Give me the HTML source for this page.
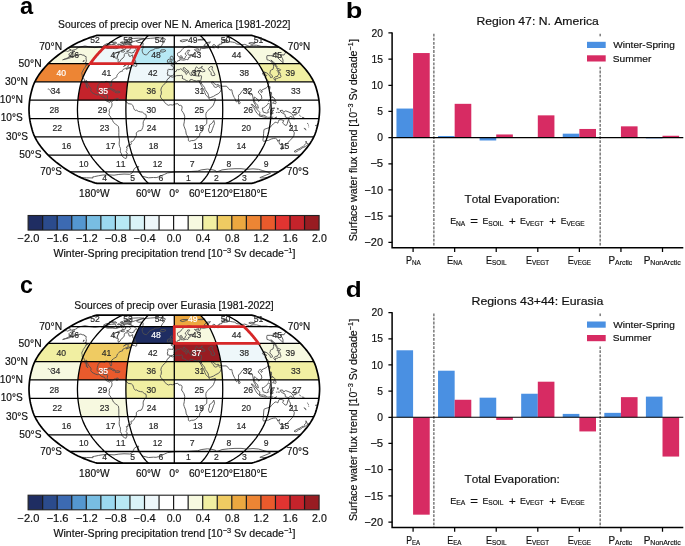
<!DOCTYPE html>
<html><head><meta charset="utf-8"><style>
html,body{margin:0;padding:0;background:#fff;}
body{width:685px;height:546px;overflow:hidden;font-family:"Liberation Sans",sans-serif;}
svg{display:block;font-kerning:none;will-change:transform;}
</style></head><body>
<svg width="685" height="546" viewBox="0 0 685 546" font-family="Liberation Sans, sans-serif">
<rect width="685" height="546" fill="#fff"/>
<text transform="translate(20.09,13.5) scale(1.0080,1)" font-size="23.5" font-weight="bold" fill="#000">a</text>
<g>
<path d="M48.19 63.7 L90.23 63.7 L90.23 63.7 L90.83 62.81 L91.45 61.93 L92.09 61.05 L92.75 60.18 L93.42 59.31 L94.1 58.45 L94.79 57.59 L95.5 56.73 L96.22 55.88 L96.94 55.04 L97.68 54.2 L98.42 53.37 L99.18 52.55 L99.94 51.73 L100.71 50.92 L101.49 50.11 L102.27 49.32 L103.07 48.53 L103.87 47.75 L104.69 46.98 L104.69 46.98 L69.89 46.98 L69.89 46.98 L68.66 47.75 L67.45 48.53 L66.26 49.32 L65.08 50.11 L63.92 50.92 L62.76 51.73 L61.62 52.55 L60.49 53.37 L59.37 54.2 L58.26 55.04 L57.17 55.88 L56.1 56.73 L55.04 57.59 L54 58.45 L52.97 59.31 L51.97 60.18 L50.99 61.05 L50.03 61.93 L49.1 62.81 L48.19 63.7Z" fill="#f7f9e0"/>
<path d="M90.23 63.7 L132.26 63.7 L132.26 63.7 L132.57 62.81 L132.88 61.93 L133.2 61.05 L133.52 60.18 L133.86 59.31 L134.2 58.45 L134.55 57.59 L134.9 56.73 L135.26 55.88 L135.62 55.04 L135.99 54.2 L136.36 53.37 L136.74 52.55 L137.12 51.73 L137.51 50.92 L137.89 50.11 L138.29 49.32 L138.68 48.53 L139.09 47.75 L139.5 46.98 L139.5 46.98 L104.69 46.98 L104.69 46.98 L103.87 47.75 L103.07 48.53 L102.27 49.32 L101.49 50.11 L100.71 50.92 L99.94 51.73 L99.18 52.55 L98.42 53.37 L97.68 54.2 L96.94 55.04 L96.22 55.88 L95.5 56.73 L94.79 57.59 L94.1 58.45 L93.42 59.31 L92.75 60.18 L92.09 61.05 L91.45 61.93 L90.83 62.81 L90.23 63.7Z" fill="#eef7fa"/>
<path d="M132.26 63.7 L174.3 63.7 L174.3 63.7 L174.3 62.81 L174.3 61.93 L174.3 61.05 L174.3 60.18 L174.3 59.31 L174.3 58.45 L174.3 57.59 L174.3 56.73 L174.3 55.88 L174.3 55.04 L174.3 54.2 L174.3 53.37 L174.3 52.55 L174.3 51.73 L174.3 50.92 L174.3 50.11 L174.3 49.32 L174.3 48.53 L174.3 47.75 L174.3 46.98 L174.3 46.98 L139.5 46.98 L139.5 46.98 L139.09 47.75 L138.68 48.53 L138.29 49.32 L137.89 50.11 L137.51 50.92 L137.12 51.73 L136.74 52.55 L136.36 53.37 L135.99 54.2 L135.62 55.04 L135.26 55.88 L134.9 56.73 L134.55 57.59 L134.2 58.45 L133.86 59.31 L133.52 60.18 L133.2 61.05 L132.88 61.93 L132.57 62.81 L132.26 63.7Z" fill="#b7e8f4"/>
<path d="M258.37 63.7 L300.41 63.7 L300.41 63.7 L299.5 62.81 L298.57 61.93 L297.61 61.05 L296.63 60.18 L295.63 59.31 L294.6 58.45 L293.56 57.59 L292.5 56.73 L291.43 55.88 L290.34 55.04 L289.23 54.2 L288.11 53.37 L286.98 52.55 L285.84 51.73 L284.68 50.92 L283.52 50.11 L282.34 49.32 L281.15 48.53 L279.94 47.75 L278.71 46.98 L278.71 46.98 L243.91 46.98 L243.91 46.98 L244.73 47.75 L245.53 48.53 L246.33 49.32 L247.11 50.11 L247.89 50.92 L248.66 51.73 L249.42 52.55 L250.18 53.37 L250.92 54.2 L251.66 55.04 L252.38 55.88 L253.1 56.73 L253.81 57.59 L254.5 58.45 L255.18 59.31 L255.85 60.18 L256.51 61.05 L257.15 61.93 L257.77 62.81 L258.37 63.7Z" fill="#f7f9e0"/>
<path d="M34.81 81.87 L81.31 81.87 L81.31 81.87 L81.61 80.95 L81.93 80.04 L82.27 79.12 L82.62 78.2 L82.98 77.28 L83.36 76.37 L83.75 75.45 L84.16 74.54 L84.58 73.62 L85.03 72.71 L85.49 71.8 L85.97 70.89 L86.47 69.98 L86.97 69.08 L87.49 68.17 L88.01 67.27 L88.54 66.38 L89.09 65.48 L89.65 64.59 L90.23 63.7 L90.23 63.7 L48.19 63.7 L48.19 63.7 L47.32 64.59 L46.48 65.48 L45.67 66.38 L44.87 67.27 L44.08 68.17 L43.31 69.08 L42.55 69.98 L41.81 70.89 L41.09 71.8 L40.39 72.71 L39.73 73.62 L39.09 74.54 L38.48 75.45 L37.89 76.37 L37.33 77.28 L36.78 78.2 L36.25 79.12 L35.75 80.04 L35.27 80.95 L34.81 81.87Z" fill="#ed8534"/>
<path d="M127.8 81.87 L174.3 81.87 L174.3 81.87 L174.3 80.95 L174.3 80.04 L174.3 79.12 L174.3 78.2 L174.3 77.28 L174.3 76.37 L174.3 75.45 L174.3 74.54 L174.3 73.62 L174.3 72.71 L174.3 71.8 L174.3 70.89 L174.3 69.98 L174.3 69.08 L174.3 68.17 L174.3 67.27 L174.3 66.38 L174.3 65.48 L174.3 64.59 L174.3 63.7 L174.3 63.7 L132.26 63.7 L132.26 63.7 L131.97 64.59 L131.69 65.48 L131.42 66.38 L131.16 67.27 L130.89 68.17 L130.64 69.08 L130.38 69.98 L130.14 70.89 L129.9 71.8 L129.66 72.71 L129.44 73.62 L129.23 74.54 L129.03 75.45 L128.83 76.37 L128.64 77.28 L128.46 78.2 L128.28 79.12 L128.12 80.04 L127.96 80.95 L127.8 81.87Z" fill="#eef7fa"/>
<path d="M174.3 81.87 L220.8 81.87 L220.8 81.87 L220.64 80.95 L220.48 80.04 L220.32 79.12 L220.14 78.2 L219.96 77.28 L219.77 76.37 L219.57 75.45 L219.37 74.54 L219.16 73.62 L218.94 72.71 L218.7 71.8 L218.46 70.89 L218.22 69.98 L217.96 69.08 L217.71 68.17 L217.44 67.27 L217.18 66.38 L216.91 65.48 L216.63 64.59 L216.34 63.7 L216.34 63.7 L174.3 63.7 L174.3 63.7 L174.3 64.59 L174.3 65.48 L174.3 66.38 L174.3 67.27 L174.3 68.17 L174.3 69.08 L174.3 69.98 L174.3 70.89 L174.3 71.8 L174.3 72.71 L174.3 73.62 L174.3 74.54 L174.3 75.45 L174.3 76.37 L174.3 77.28 L174.3 78.2 L174.3 79.12 L174.3 80.04 L174.3 80.95 L174.3 81.87Z" fill="#f7f9e0"/>
<path d="M267.29 81.87 L313.79 81.87 L313.79 81.87 L313.33 80.95 L312.85 80.04 L312.35 79.12 L311.82 78.2 L311.27 77.28 L310.71 76.37 L310.12 75.45 L309.51 74.54 L308.87 73.62 L308.21 72.71 L307.51 71.8 L306.79 70.89 L306.05 69.98 L305.29 69.08 L304.52 68.17 L303.73 67.27 L302.93 66.38 L302.12 65.48 L301.28 64.59 L300.41 63.7 L300.41 63.7 L258.37 63.7 L258.37 63.7 L258.95 64.59 L259.51 65.48 L260.06 66.38 L260.59 67.27 L261.11 68.17 L261.63 69.08 L262.13 69.98 L262.63 70.89 L263.11 71.8 L263.57 72.71 L264.02 73.62 L264.44 74.54 L264.85 75.45 L265.24 76.37 L265.62 77.28 L265.98 78.2 L266.33 79.12 L266.67 80.04 L266.99 80.95 L267.29 81.87Z" fill="#f1efa2"/>
<path d="M77.88 100.22 L126.09 100.22 L126.09 100.22 L126.13 99.31 L126.18 98.39 L126.23 97.47 L126.29 96.55 L126.35 95.64 L126.42 94.72 L126.49 93.8 L126.57 92.88 L126.65 91.97 L126.73 91.05 L126.81 90.13 L126.89 89.21 L126.98 88.3 L127.07 87.38 L127.17 86.46 L127.28 85.54 L127.4 84.62 L127.53 83.71 L127.66 82.79 L127.8 81.87 L127.8 81.87 L81.31 81.87 L81.31 81.87 L81.02 82.79 L80.75 83.71 L80.5 84.62 L80.27 85.54 L80.05 86.46 L79.85 87.38 L79.66 88.3 L79.49 89.21 L79.32 90.13 L79.16 91.05 L79 91.97 L78.84 92.88 L78.68 93.8 L78.54 94.72 L78.4 95.64 L78.28 96.55 L78.16 97.47 L78.06 98.39 L77.96 99.31 L77.88 100.22Z" fill="#c4232b"/>
<path d="M126.09 100.22 L174.3 100.22 L174.3 100.22 L174.3 99.31 L174.3 98.39 L174.3 97.47 L174.3 96.55 L174.3 95.64 L174.3 94.72 L174.3 93.8 L174.3 92.88 L174.3 91.97 L174.3 91.05 L174.3 90.13 L174.3 89.21 L174.3 88.3 L174.3 87.38 L174.3 86.46 L174.3 85.54 L174.3 84.62 L174.3 83.71 L174.3 82.79 L174.3 81.87 L174.3 81.87 L127.8 81.87 L127.8 81.87 L127.66 82.79 L127.53 83.71 L127.4 84.62 L127.28 85.54 L127.17 86.46 L127.07 87.38 L126.98 88.3 L126.89 89.21 L126.81 90.13 L126.73 91.05 L126.65 91.97 L126.57 92.88 L126.49 93.8 L126.42 94.72 L126.35 95.64 L126.29 96.55 L126.23 97.47 L126.18 98.39 L126.13 99.31 L126.09 100.22Z" fill="#f1efa2"/>
<path d="M47.75 89.12 L48.48 89.03 L49.3 89.58 L49.63 89.86 L50.41 90.22 L50.74 90.86 L51.34 91.32 L50.7 92.06 L50.53 91.42 M293.81 114.54 L295.2 114.26 L296.46 113.25 L297.1 113.35 L295.97 114.81 L294.74 115.09 L293.81 114.54 M295.97 111.79 L297.14 112.7 L297.73 113.71 M299.41 115.09 L299.95 115.46 L301.05 116.74 M302.06 117.02 L303.53 118.39 M303.35 117.02 L304.11 118.21 M304.28 127.94 L305.22 128.94 L306.17 129.86 L305.76 129.95 L304.5 128.67 L304.28 127.94 M307.47 122.98 L307.75 123.99 M308.43 124.54 L308.51 125.55 M308.72 126.65 L308.64 127.29 M315.46 125.46 L316.46 125.27 L316.09 126.1 L315.46 125.46 M316.88 124.54 L317.88 124.36 M277.19 107.75 L277.62 108.94 L278.25 108.21 L277.77 110.13 M277.55 112.34 L279.8 112.52 M275.94 112.34 L276.9 112.61 M267.21 117.2 L268.41 117.38 L270.03 117.2 L271.62 117.38 L273.26 117.02 M271.03 97.1 L271.71 98.11 M268.6 101.78 L270.21 99.03 M273.94 97.93 L275.04 99.21 L274.74 100.22 M272.67 99.58 L273.36 100.96 M108.99 42.56 L112.61 41.52 L113.22 42.21 L110.4 42.7 L108.99 42.56 M120.36 42.92 L122.78 42.21 L122.66 41.86 L120.48 42.35 L120.36 42.92 M121.98 43.42 L123.91 43.13 L123.13 42.84 L121.98 43.42 M124.52 41.18 L128.67 41.18 L131.03 39.58 L128.93 39.28 L125.75 40.2 L124.52 41.18 M116 47.98 L117.96 47.75 L118.42 47.21 L117.32 47.13 L116 47.98 M121.01 51.73 L123.85 52.14 L124.67 51.32 L123.22 50.27 L121.12 50.68 L121.01 51.73 M129.6 44.73 L131.56 44.36 L131.24 44.07 L129.4 44.29 L129.6 44.73 M197.87 39.88 L201.43 39.28 L205.14 39.58 L201.98 40.01 L197.87 39.88 M117.64 48.14 L118.87 47.36 L120.67 45.62 L121.94 45.47 L121.25 46.6 L121.6 47.6 L122.3 48.22 M86.92 65.21 L86.06 64.68 L85.04 63.61 L84.93 62.99 L86.91 63.43 L86.92 65.21 M83.51 61.93 L84.23 60.61 L83.91 60.18 L83.17 61.49 L83.51 61.93 M76.91 48.14 L80.44 46.9 L84.93 45.99 L86.97 46.37 L88.76 46.75 L92.22 47.21 L94.67 47.6 L98.13 47.13 L100.23 46.83 L101.86 47.44 L105.13 47.67 L106.86 48.3 L109.82 48.3 L112.63 48.45 L116 48.69 L118.29 48.06 L120.56 47.44 L122.3 48.22 L124.53 47.21 L125.95 48.06 L125.27 49.48 L123 49.72 L120.84 51.08 L118.11 51.89 L115.06 53.54 L112.97 55.54 L113.12 56.9 L114.78 57.41 L116.39 58.62 L118.45 59.14 L117.99 61.05 L118.43 62.55 L120.1 61.49 L120.87 59.66 L123.06 58.01 L124.23 56.31 L124.35 54.45 L125.25 53.12 L127.65 53.12 L128.73 54.04 L128.99 56.05 L130.09 56.48 L132.61 54.87 L132.74 57.16 L133.2 58.45 L134.53 59.31 L135.41 60.61 L135.78 61.93 L134.05 62.55 L132.32 63.52 L129.18 63.52 L127.65 63.88 L125.46 65.03 L123.53 66.46 L126.27 64.77 L128.51 64.41 L128.79 65.03 L127.76 66.2 L127.98 67.09 L129.97 67.63 L130.85 67.09 L131.02 67.72 L128.25 68.54 L126.33 69.35 L126.29 68.54 L127.72 67.9 L125.83 68.17 L124.54 68.81 L123.09 69.44 L122.33 70.44 L122.72 71.07 L121.5 71.44 L119.62 71.98 L119.3 72.53 L118.28 73.71 L117.67 74.26 L116.95 75.45 L116.91 76.73 L116.02 77.56 L114.68 78.29 L113.6 78.94 L111.89 80.31 L111.3 81.87 L111.58 83.52 L111.69 85.08 L111.18 86.28 L110.57 86.18 L110.28 85.08 L109.79 83.89 L109.94 82.79 L109.23 81.78 L108.14 82.15 L107.35 81.5 L106.22 81.41 L104.99 81.69 L104.91 82.7 L104.02 82.51 L103.28 82.33 L101.78 82.15 L100.52 82.51 L98.88 83.52 L98.17 84.62 L97.89 86 L97.32 87.84 L97.12 89.67 L97.39 91.05 L98.06 91.97 L99.15 92.7 L100.79 92.33 L101.84 92.15 L102.58 90.77 L102.75 90.13 L104.31 89.67 L105.5 89.67 L105.08 91.05 L104.6 92.33 L104.08 93.34 L103.68 94.72 L105.66 94.81 L107.25 94.9 L107.71 95.82 L107.29 97.93 L107.11 99.31 L107.98 100.68 L108.92 101.23 L110.16 100.59 L111.19 100.77 L112.12 101.51 L113.04 100.87 L113.58 99.77 L114.26 99.21 L115.47 99.03 L116.39 98.39 L116.83 99.12 L116.54 100.04 L116.97 100.96 L117.28 99.77 L116.86 98.66 L118.01 98.21 L118.45 98.94 L119.53 99.67 L121.3 99.67 L122.74 99.67 L124.11 99.67 L125.29 100.13 L125.55 101.51 L126.82 102.06 L128.14 103.71 L129.99 103.89 L131.59 104.26 L132.78 105.36 L133.55 107.56 L133.94 108.85 L134.59 109.86 L135.24 110.5 L136.36 110.13 L138.39 111.42 L140.42 111.88 L142.44 112.15 L144.31 113.8 L145.85 114.36 L146.29 116.28 L146 118.03 L144.6 119.49 L143.46 121.33 L143.13 123.16 L143.25 125.46 L142.73 127.48 L141.97 129.31 L141.18 130.5 L139.23 130.78 L137.7 131.42 L136.28 133.07 L136.43 135.28 L135.55 136.93 L134.63 138.58 L133.62 140.42 L132.78 141.24 L131.27 141.33 L130.92 142.25 L131.44 143.35 L131.07 144.45 L129.77 144.99 L127.78 145.09 L128.1 146.64 L126.19 147 L127.18 148.36 L126.79 149.27 L126.84 150.63 L125.85 151.8 L127.37 153.14 L126.63 154.66 L126.23 155.81 L127.05 157.13 L126.27 157.57 L126.05 158.62 L124.37 157.92 L122.86 156.87 L121.48 155.1 L121.5 153.77 L120.32 151.98 L120.39 150.17 L120.5 148.36 L119.61 146.54 L119.16 144.26 L119.24 141.97 L119.49 140.14 L119.06 137.39 L118.79 135.09 L118.85 132.34 L118.79 129.13 L118.42 126.38 L117.46 125.55 L115.66 124.27 L113.5 122.43 L112.55 120.41 L111.2 118.12 L110.05 116.01 L108.88 114.91 L109.15 113.53 L109.53 112.43 L109.09 110.78 L109.72 109.12 L110.14 108.3 L110.87 107.75 L111.71 106.28 L111.98 105.09 L111.96 103.34 L111.51 102.61 L110.77 101.23 L109.93 101.78 L109.49 102.61 L108.56 101.97 L107.06 101.33 L105.51 100.32 L105.42 99.31 L104.43 97.56 L103.18 97.2 L101.16 96.55 L100.03 95.18 L98.75 94.53 L97.26 94.99 L95.49 94.44 L93.85 93.62 L92 92.61 L90.7 90.77 L91.15 89.4 L90.83 88.48 L89.78 86.92 L88.57 85.91 L87.96 84.17 L87.06 82.88 L86.89 80.86 L85.92 80.31 L85.73 81.87 L86.46 83.34 L86.64 85.08 L87.3 87.1 L87.98 88.11 L87.41 87.74 L86.22 86.64 L86.41 85.08 L85.28 83.98 L85.04 82.33 L84.47 80.95 L84.33 79.58 L83.77 78.38 L83.15 77.83 L82.38 77.65 L82.19 75.91 L82.16 74.81 L81.77 73.71 L82.02 72.35 L82.95 70.89 L83.17 69.98 L85.24 67.09 L85.98 65.12 L87.07 65.3 L87.45 64.5 L86.73 63.7 L85.61 62.81 L86.27 61.49 L86.31 59.74 L85.96 58.96 L86.18 57.59 L85.97 56.39 L84.91 56.48 L84.2 55.21 L82.12 55.04 L80.99 54.29 L78.75 54.87 L77.15 55.46 L75.71 55.71 L77.29 54.45 L74.69 55.63 L73.04 56.73 L70.52 57.67 L68.3 58.45 L65.72 59.05 L64 59.4 L62.67 59.83 L65.75 58.7 L69.61 56.99 L71.95 56.05 L70.74 55.97 L68.72 56.14 L69.77 55.12 L68.76 54.62 L69.14 53.79 L70.07 52.79 L71.53 52.38 L74.95 51.4 L73.92 51.24 L71.95 51.24 L71.93 50.43 L75.13 49.64 L76.92 48.77 L76.91 48.14 M136.45 41.18 L141.75 39.28 L146.17 38.7 L150.29 38.37 L155.34 37.95 L160.13 37.84 L163.73 38.37 L165.45 39.16 L164.61 40.52 L164.21 42.21 L162.81 43.63 L161.93 45.1 L160.99 46.83 L158.97 48.06 L155.33 48.45 L153.13 49.87 L150.81 50.52 L149.2 51.73 L147.61 53.79 L146.39 55.04 L145.08 54.7 L143.65 54.2 L142.84 52.96 L142.39 51.73 L142.14 50.11 L142.36 48.92 L143.96 47.36 L143.2 46.52 L142.88 45.47 L143.16 44 L142.84 42.77 L141.21 42.42 L138.97 42.56 L137.24 42.07 L136.45 41.18 M134 52.38 L134.34 50.52 L136.7 49.48 L135.07 47.6 L133.7 46.52 L132.15 45.84 L130.21 45.02 L127.19 44.29 L123.88 44.88 L124.53 46.83 L126.62 47.13 L129.11 46.9 L130.57 48.69 L129.25 50.35 L126.57 51.24 L129.32 52.38 L131.47 53.04 L134 52.38 M106.67 46.22 L108.93 44.73 L111.33 44.58 L114.91 44.36 L116 45.47 L115.56 46.83 L113.26 47.75 L107.68 48.06 L105.98 47.13 L106.67 46.22 M103.37 45.62 L106.51 43.78 L109.53 43.78 L109.48 44.73 L105.58 45.92 L103.37 45.62 M131.81 42.21 L127.56 42.21 L127.12 41.18 L128.43 39.28 L133.41 38.42 L138.52 38.15 L144 38.42 L139.98 39.58 L135.73 40.85 L131.81 42.21 M130.51 43.63 L126.68 43.63 L124.16 43.42 L125.2 42.42 L129.61 42.28 L131.28 42.77 L130.51 43.63 M123.36 45.47 L120.53 45.47 L120.83 44 L123.73 43.85 L123.36 45.47 M119.18 45.1 L117.57 45.02 L117.92 44.14 L119.98 44.29 L119.18 45.1 M116.7 43.27 L112.89 43.27 L112.66 42.42 L115.96 42.14 L116.7 43.27 M136.76 65.93 L136.69 64.14 L135.84 62.37 L134.16 63.25 L132.54 65.03 L132.08 65.84 L134.43 65.84 L136 66.64 L136.76 65.93 M107.13 89.3 L108.44 88.39 L110.04 88.2 L111.56 88.66 L113.05 89.4 L114.55 90.04 L115.49 90.86 L113 91.14 L112.52 90.5 L111.06 89.49 L109.52 89.12 L107.92 89.3 L107.13 89.3 M115.15 92.52 L116.41 91.14 L118 91.14 L119.56 91.42 L119.94 92.33 L117.82 92.88 L116.64 92.7 L115.15 92.52 M170.06 76.37 L169.54 75.63 L168.65 75.27 L167.58 75.45 L167.71 73.9 L167.19 73.81 L167.79 71.8 L167.77 70.44 L167.49 69.98 L168.47 69.35 L171.38 69.62 L172.99 69.62 L173.44 67.27 L172.73 66.2 L171.1 65.57 L171.05 64.94 L173.24 64.85 L173.39 63.96 L174.44 64.14 L175.41 62.9 L176.59 62.46 L177.39 61.49 L177.72 60.79 L179.08 60.61 L180.09 60.35 L180.01 58.88 L179.73 57.59 L181.21 56.99 L181.29 58.01 L180.97 59.31 L181.64 60.18 L182.44 60 L183.81 60.18 L185.13 59.74 L186.45 59.48 L187.84 59.74 L188.53 58.88 L188.24 57.76 L189.84 57.41 L190.33 57.16 L190 56.39 L189.56 55.71 L191.14 55.46 L192.44 55.46 L193.64 55.04 L192.26 54.62 L191 54.7 L189.01 55.12 L187.93 54.37 L187.83 52.96 L188.58 51.89 L189.63 50.92 L189.86 50.52 L189.2 50.27 L187.68 50.27 L187.25 51.32 L186.45 52.14 L185.33 53.12 L185.28 54.2 L186.42 55.04 L186.5 55.63 L185.43 56.48 L185.23 57.59 L184.92 58.36 L183.9 58.88 L182.89 58.88 L182.62 58.01 L182.05 56.73 L181.59 55.88 L181.11 55.54 L180.48 55.88 L179.55 56.65 L178.56 56.65 L177.95 56.05 L177.51 54.62 L177.46 53.37 L178.68 52.55 L179.9 52.06 L180.77 51.32 L181.58 50.11 L182.39 49.16 L183.18 48.37 L183.98 47.75 L185.35 47.13 L186.45 46.83 L187.51 46.37 L189.2 46.22 L190.98 46.45 L192.22 46.75 L193.56 47.36 L195.43 47.75 L197.4 48.37 L198.86 49.16 L198.8 49.87 L197.33 50.03 L195.47 49.87 L194.47 49.56 L195.64 50.92 L197.25 51.81 L198.32 51.24 L199.27 51.32 L200.34 49.95 L200.3 48.22 L201.54 48.37 L203.98 48.53 L206.17 48.14 L208.38 47.83 L209.48 47.13 L211.73 47.52 L214.25 47.83 L212.93 46.6 L212.83 45.1 L213.31 44.58 L214.92 44.88 L215.65 45.84 L217.68 48.14 L218.95 47.83 L217.77 45.32 L219.35 45.17 L219.2 44.29 L221.71 44 L221.51 43.2 L223.62 42.63 L225.61 42.49 L227.42 42.21 L228.49 41.38 L230.69 41.86 L232.64 42.14 L234.7 42.49 L236.86 44 L239.79 44.36 L243.03 44.73 L244.79 44.36 L247.32 45.47 L249.19 46.3 L251.1 45.77 L253.14 45.17 L256.63 45.25 L259.95 45.99 L261.63 46.37 L266.23 46.37 L271.05 47.29 L272.91 46.98 L276.63 47.13 L279.94 47.75 M68.54 47.83 L68.88 48.77 L69.86 49.32 L71.1 49.72 L71.15 50.11 L69.46 50.68 L67.43 51.48 L66.37 50.92 L64.61 51.08 L63.92 50.92 M284.68 50.92 L284.88 51.48 L285.66 52.96 L284.65 53.62 L284.08 55.04 L281.01 54.79 L280.22 55.21 L281.34 56.73 L282.39 58.27 L283.04 60.18 L282.97 61.49 L283.23 62.81 L281.17 61.05 L277.53 57.59 L277.58 56.9 L278.12 55.63 L277.87 53.79 L275.77 53.62 L273.33 53.7 L273.12 55.8 L270.34 55.63 L267.09 55.63 L266.73 56.9 L267.03 59.74 L268.77 60.18 L271.41 61.49 L272.03 62.81 L273.53 65.03 L273.59 66.82 L273.02 69.26 L271.28 69.98 L270.35 70.62 L270.29 71.8 L269.76 73.17 L271.94 75.45 L272.61 77.1 L271.33 77.65 L270.57 77.65 L269.83 75.45 L268.48 74.81 L267.26 73.08 L264.83 72.26 L264.76 73.62 L264.98 72.26 L263.9 71.89 L263.01 73.08 L262.35 73.9 L263.78 75.09 L265.12 74.72 L266.73 75.45 L265.43 76.83 L265.19 77.74 L266.89 79.58 L268.52 81.14 L268.88 83.25 L268.09 85.82 L266.48 87.84 L263.94 89.03 L261.76 90.13 L261.47 90.77 L260.67 89.76 L260.1 89.67 L258.87 90.86 L258.28 92.15 L259.09 93.34 L261.19 95.18 L261.96 98.39 L260.24 99.77 L258.6 101.51 L258.67 100.22 L258.23 99.77 L256.96 99.03 L255.64 97.75 L254.37 97.01 L253.97 99.77 L255.14 102.79 L256.31 103.62 L257.67 105.27 L258.39 108.12 L257.83 108.21 L256.02 106.83 L255.13 104.35 L253.56 101.88 L253.53 100.22 L252.29 94.26 L250.53 94.9 L249.46 94.63 L249.35 91.97 L247.39 90.41 L246.79 88.94 L245.8 89.21 L244.27 89.58 L243 90.13 L241.75 91.51 L239.93 94.26 L238.43 95.18 L238.55 97.47 L238.4 99.95 L237.06 101.88 L236.67 102.06 L235.82 101.14 L235.04 98.85 L234.23 97.47 L232.95 94.72 L232.12 91.97 L231.92 90.13 L231.63 89.67 L229.94 90.13 L228.77 88.75 L228.27 87.84 L227.43 87.38 L226.5 86.18 L222.97 86.28 L219.79 85.91 L219.21 85.63 L218.28 84.44 L216.54 84.9 L214.47 83.89 L213.23 82.06 L211.88 81.87 L211.56 82.33 L212.11 83.71 L212.99 84.62 L213.53 85.27 L214.23 86.74 L215.23 87.38 L216.79 87.19 L218.18 85.54 L218.61 86.55 L219.82 87.65 L221.5 88.75 L220.64 90.59 L220.2 91.97 L218.12 93.8 L215.81 94.9 L213.5 96.37 L210.75 97.47 L209.16 97.75 L208.51 95.82 L208.27 94.26 L206.86 91.97 L205.14 89.67 L204.52 87.38 L202.98 85.54 L201.58 83.71 L201.39 82.33 L200.98 83.89 L199.99 83.25 L199.57 81.96 L199.23 80.77 L200.77 80.68 L201.14 79.12 L201.56 76.83 L201.52 75.91 L200.36 75.63 L198.92 76.28 L197.36 75.91 L195.61 75.73 L194.85 74.99 L194.06 73.17 L193.76 72.44 L194.71 72.26 L195.74 71.62 L194.97 71.35 L194.91 70.89 L195.19 69.08 L195.75 67.9 L196.38 66.82 L197.76 67.81 L198.61 68.63 L199.95 67.99 L200.67 67.99 L201.51 66.64 L202.39 66.38 L201.77 67.27 L201.43 68.17 L203.05 69.08 L204.91 70.44 L204.93 71.35 L202.42 71.8 L200.06 70.89 L197.59 71.62 L195.89 71.62 L195.17 71.8 L193.71 71.98 L192.08 71.98 L191.1 72.53 L192.31 74.35 L191.59 74.72 L191.31 75.91 L190.24 74.72 L189.6 73.35 L188.62 72.26 L188.67 71.07 L186.74 69.98 L185.15 68.17 L184.17 67.54 L183.18 67.9 L183.31 68.9 L184.58 70.44 L186.88 71.8 L188.05 72.53 L187.01 73.62 L186.74 74.08 L186.32 74.54 L186 74.26 L185.83 72.71 L183.91 71.53 L182.37 70.44 L181.58 69.08 L180.47 68.81 L179.76 69.26 L179.05 69.89 L177.58 69.53 L176.5 69.98 L176.66 70.98 L175.04 71.8 L174.08 73.17 L174.45 73.81 L173.92 74.26 L172.79 75.73 L170.9 75.73 L170.06 76.37 M208.4 68.63 L210.14 66.82 L212.22 66.55 L212.64 68.17 L211.71 68.81 L213.02 70.89 L213.52 71.8 L214.86 74.54 L214.92 75.18 L212.83 75.73 L211.19 74.99 L211.07 72.44 L209.63 70.89 L208.4 68.63 M199.57 81.96 L199.23 80.77 L197.45 80.68 L196.71 81.05 L193.57 80.4 L191.97 79.49 L190.06 79.76 L189.76 81.14 L188.61 81.41 L186.25 80.5 L184.27 79.21 L183.11 78.94 L182.09 78.2 L182.66 77.01 L182.23 75.73 L181.84 75.18 L180.72 75.54 L176.57 75.63 L173.54 76.83 L172.63 77.19 L170.21 76.46 L169.59 76.83 L169.1 78.2 L167.79 78.84 L166.74 80.68 L166.87 81.69 L165.18 83.52 L164.15 84.17 L162.94 85.54 L161.38 87.84 L160.84 90.13 L161.43 91.97 L161.13 94.72 L160.31 95.91 L160.91 97.93 L162.26 99.31 L163.61 100.68 L164.64 102.52 L166.24 103.89 L168.25 105.36 L170.27 104.72 L172.69 105.09 L175.11 103.99 L177.84 103.62 L179.14 105.45 L180.35 105.27 L181.56 105.73 L182.13 107.11 L181.97 108.48 L181.56 110.32 L183.17 112.61 L183.97 113.99 L184.76 116.74 L184.31 121.79 L183.7 125 L184.23 126.83 L185.66 130.41 L186.26 134.18 L187.14 135.64 L188.33 138.3 L188.36 140.6 L189.53 141.33 L191.49 140.6 L193.87 140.51 L195.37 139.86 L197.45 138.12 L199.6 135.55 L199.85 133.17 L202.25 131.33 L202.37 129.13 L201.82 127.57 L203.31 126.47 L205.38 124.82 L206.72 123.62 L206.81 119.49 L205.93 116.74 L205.87 115.36 L205.9 113.71 L206.73 111.88 L207.87 110.87 L209.41 108.94 L211.82 107.11 L213.4 105 L214.54 102.06 L215.42 99.77 L215.37 98.57 L213.63 99.03 L210.45 99.86 L209.12 98.85 L208.52 97.84 L207.51 96.55 L205.67 94.9 L204.83 92.61 L203.74 90.13 L203.45 89.21 L202.33 87.47 L201.16 85.27 L199.57 81.96 M213.84 120.41 L214.55 123.62 L213.71 125.46 L212.72 128.21 L211.22 132.34 L209.6 132.8 L208.73 130.96 L208.54 129.13 L209.45 127.29 L209.36 125 L211.26 123.9 L212.71 122.25 L213.84 120.41 M263.98 129.59 L263.63 133.26 L263.42 136.93 L262.87 140.14 L263.71 141.52 L265.98 140.6 L268.35 140.42 L271.18 139.04 L273.73 138.4 L275.47 138.3 L277.14 139.5 L277.72 141.33 L279.75 139.68 L278.95 141.97 L279.56 144.08 L280.39 144.63 L282.37 144.45 L283.83 145.18 L285.73 144.08 L287.38 143.53 L288.34 142.16 L289.98 140.42 L292.48 137.85 L293.87 135.55 L294.33 132.8 L293.27 130.96 L292.36 129.86 L291.98 128.03 L290.49 126.83 L290.41 124.08 L290.37 122.98 L289.21 122.25 L288.73 119.22 L287.74 121.33 L287.3 123.62 L286.42 125.37 L285.16 125.27 L283.66 123.9 L282.61 122.98 L283.75 120.59 L281.05 119.68 L279.01 119.95 L278.45 121.33 L277.79 123.16 L276.54 122.43 L275.12 122.25 L273.72 123.62 L271.59 125.46 L270.32 127.29 L266.95 128.39 L264.85 129.13 L263.98 129.59 M281.56 146.73 L284.11 146.91 L282.51 149 L281.16 149.36 L281.07 148.18 L281.56 146.73 M305.98 141.06 L306.54 142.43 L306.73 143.35 L308.57 143.99 L306.81 145.45 L305.27 146.54 L303.54 147.55 L303.38 147.27 L304.32 145.91 L304.11 145.36 L306.05 143.35 L305.98 141.06 M302.45 146.54 L302.81 147.64 L301.15 148.82 L300.13 149.54 L298.52 150.17 L297.05 151.44 L295.38 152.07 L294.03 151.53 L296.78 149.72 L299.1 148.82 L301.25 147.45 L302.45 146.54 M273.73 78.84 L275.38 80.68 L275.34 78.66 L276.49 78.66 L277.56 78.48 L278.61 77.74 L280.2 77.56 L281.14 76.64 L280.07 74.26 L280.2 73.17 L278.72 71.44 L278.02 71.98 L279.07 74.08 L277.67 75.45 L277.74 76.37 L275.3 76.83 L274.19 77.74 L273.73 78.84 M277.63 71.35 L278.17 70.44 L279.78 70.89 L280.62 69.71 L279.46 69.08 L276.64 67.81 L277.57 69.53 L277.06 70.44 L277.63 71.35 M276.41 67.27 L277.17 66.82 L275.17 64.59 L276.23 64.59 L273.39 62.19 L271.11 59.92 L272.48 61.93 L274.66 65.03 L276.41 67.27 M269.09 88.3 L269.29 86.28 L270.09 86.64 L269.74 89.21 L269.09 88.3 M260.6 91.78 L261.74 90.96 L262.37 91.42 L261.54 92.7 L260.6 91.78 M269.7 92.52 L271.43 92.42 L271.58 94.26 L271.4 95.64 L273.7 97.93 L271.15 96.74 L270.22 95.82 L270.39 94.26 L269.7 92.52 M272.54 102.98 L275.17 100.5 L276.13 102.52 L275.42 103.89 L274.17 103.25 L272.54 102.98 M251.1 104.26 L252.89 104.63 L254.98 107.11 L257.83 110.32 L259.81 112.34 L259.55 114.72 L258.5 114.72 L256.8 113.07 L255.41 110.78 L253.95 107.84 L251.1 104.26 M259.1 115.64 L259.95 114.91 L261.69 115.36 L263.55 115.27 L265.13 115.82 L266.45 116.56 L266.39 117.47 L263.21 116.92 L260.04 116.19 L259.1 115.64 M262.27 108.02 L262.76 110.32 L263.28 112.15 L266.64 113.07 L268.27 112.61 L267.92 110.32 L269.38 108.67 L270.22 104.81 L268.51 102.98 L267.4 104.81 L265.45 106.46 L263.87 107.75 L262.27 108.02 M270.61 114.45 L270.3 112.15 L270.76 109.4 L271.56 108.67 L274.78 108.12 L271.96 108.3 L271.56 110.32 L273.82 110.23 L272.35 111.05 L273.07 113.53 L271.85 113.8 L271.51 111.97 L271.25 114.45 L270.61 114.45 M280.02 110.59 L282.45 110.23 L283.6 112.34 L285.67 110.87 L288.06 111.79 L290.84 112.89 L291.96 114.45 L293.13 115.09 L293.4 116.74 L294.8 118.85 L292.42 118.58 L291.79 116.74 L290.21 116.37 L288.87 117.93 L287.68 117.75 L285.33 117.02 L285.11 114.45 L282.36 113.07 L280.79 111.97 L280.02 110.59 M273.92 118.76 L276.71 117.11 L275.21 117.84 L273.92 118.76 M238.52 100.5 L240.15 102.52 L239.72 103.71 L238.76 103.89 L238.52 102.06 L238.52 100.5 M170.31 63.7 L172.21 63.17 L175.27 62.64 L175.47 61.32 L174.5 60.7 L174.16 59.74 L173.29 58.88 L172.97 57.59 L173.11 57.07 L172.34 56.22 L171.03 56.22 L170.21 57.16 L170.56 58.27 L171 59.31 L172.28 59.4 L172.11 60.79 L171.14 61.23 L170.7 62.19 L172.22 62.37 L170.31 63.7 M170.16 61.75 L170.15 60.18 L170.52 59.48 L169.26 59.05 L167.51 60 L167.38 62.28 L168.76 62.28 L170.16 61.75 M160.36 51.73 L160.98 49.95 L164.64 49.72 L165.98 50.76 L163.09 52.14 L160.36 51.73 M179.96 40.85 L182.8 39.76 L187.84 39.88 L185.19 41.18 L182.2 41.86 L179.96 40.85 M203.92 45.84 L205.17 44 L206.95 42.56 L210.51 42 L209.08 43.27 L206.97 46.22 L203.92 45.84 M222.75 40.52 L223.62 39.28 L227.85 40.52 L226.15 41.18 L222.75 40.52 M248.75 43.27 L250.31 42.56 L255.21 42.92 L252 44.36 L248.75 43.27 M80.97 177.62 L86.59 177.82 L93.05 177.95 L92.62 176.94 L94.62 176.59 L98.56 175.74 L102.94 175.02 L108.15 174.8 L114.09 175.17 L118.8 174.44 L124.01 174.07 L129.78 174.29 L131.85 173.33 L133.22 171.05 L134.25 168.69 L136.93 166.66 L138.73 166.5 L138.24 167.48 L137.69 169.48 L138.34 171.82 L140.22 174.07 L141.69 175.53 L142.18 176.24 L148.5 177.82 L153.49 177.48 L156.15 177.62 L158.49 176.94 L160.81 175.88 L164.31 174.44 L167.46 172.96 L174.3 172.05 L180.1 171.82 L185.87 171.97 L191.8 171.44 L197.78 171.05 L201.16 169.88 L207.49 169.08 L213.1 169.88 L215.62 170.66 L216.07 171.82 L218.06 171.44 L222.05 169.88 L228.62 169.08 L234.98 168.69 L241.04 168.69 L246.49 169.32 L253.01 168.85 L258.52 169.32 L262.84 170.66 L267.11 171.82 L268.87 172.58 L270.53 173.33 L265.05 175.53 L259.85 177.62 L261.72 177.95 L267.63 177.62" fill="none" stroke="#505050" stroke-width="0.9" stroke-linejoin="round"/>
<path d="M69.89 171.82 L278.71 171.82 M48.19 155.1 L300.41 155.1 M34.81 136.93 L313.79 136.93 M29.67 118.58 L318.93 118.58 M29.67 100.22 L318.93 100.22 M34.81 81.87 L313.79 81.87 M48.19 63.7 L300.41 63.7 M69.89 46.98 L278.71 46.98 M122.75 183.4 L120.55 182.47 L117.98 181.16 L115.12 179.52 L112.08 177.62 L109.09 175.53 L106.37 173.33 L103.87 171.05 L101.49 168.69 L99.18 166.25 L96.94 163.76 L94.79 161.21 L92.75 158.62 L90.83 155.99 L89.09 153.32 L87.49 150.63 L85.97 147.91 L84.58 145.18 L83.36 142.43 L82.27 139.68 L81.31 136.93 L80.5 134.18 L79.85 131.42 L79.32 128.67 L78.84 125.92 L78.4 123.16 L78.06 120.41 L77.8 117.66 L77.62 114.91 L77.5 112.15 L77.43 109.4 L77.5 106.65 L77.62 103.89 L77.8 101.14 L78.06 98.39 L78.4 95.64 L78.84 92.88 L79.32 90.13 L79.85 87.38 L80.5 84.62 L81.31 81.87 L82.27 79.12 L83.36 76.37 L84.58 73.62 L85.97 70.89 L87.49 68.17 L89.09 65.48 L90.83 62.81 L92.75 60.18 L94.79 57.59 L96.94 55.04 L99.18 52.55 L101.49 50.11 L103.87 47.75 L106.37 45.47 L109.09 43.27 L112.08 41.18 L115.12 39.28 L117.98 37.64 L120.55 36.33 L122.75 35.4 M148.52 183.4 L147.43 182.47 L146.14 181.16 L144.71 179.52 L143.19 177.62 L141.69 175.53 L140.34 173.33 L139.09 171.05 L137.89 168.69 L136.74 166.25 L135.62 163.76 L134.55 161.21 L133.52 158.62 L132.57 155.99 L131.69 153.32 L130.89 150.63 L130.14 147.91 L129.44 145.18 L128.83 142.43 L128.28 139.68 L127.8 136.93 L127.4 134.18 L127.07 131.42 L126.81 128.67 L126.57 125.92 L126.35 123.16 L126.18 120.41 L126.05 117.66 L125.96 114.91 L125.9 112.15 L125.87 109.4 L125.9 106.65 L125.96 103.89 L126.05 101.14 L126.18 98.39 L126.35 95.64 L126.57 92.88 L126.81 90.13 L127.07 87.38 L127.4 84.62 L127.8 81.87 L128.28 79.12 L128.83 76.37 L129.44 73.62 L130.14 70.89 L130.89 68.17 L131.69 65.48 L132.57 62.81 L133.52 60.18 L134.55 57.59 L135.62 55.04 L136.74 52.55 L137.89 50.11 L139.09 47.75 L140.34 45.47 L141.69 43.27 L143.19 41.18 L144.71 39.28 L146.14 37.64 L147.43 36.33 L148.52 35.4 M174.3 183.4 L174.3 182.47 L174.3 181.16 L174.3 179.52 L174.3 177.62 L174.3 175.53 L174.3 173.33 L174.3 171.05 L174.3 168.69 L174.3 166.25 L174.3 163.76 L174.3 161.21 L174.3 158.62 L174.3 155.99 L174.3 153.32 L174.3 150.63 L174.3 147.91 L174.3 145.18 L174.3 142.43 L174.3 139.68 L174.3 136.93 L174.3 134.18 L174.3 131.42 L174.3 128.67 L174.3 125.92 L174.3 123.16 L174.3 120.41 L174.3 117.66 L174.3 114.91 L174.3 112.15 L174.3 109.4 L174.3 106.65 L174.3 103.89 L174.3 101.14 L174.3 98.39 L174.3 95.64 L174.3 92.88 L174.3 90.13 L174.3 87.38 L174.3 84.62 L174.3 81.87 L174.3 79.12 L174.3 76.37 L174.3 73.62 L174.3 70.89 L174.3 68.17 L174.3 65.48 L174.3 62.81 L174.3 60.18 L174.3 57.59 L174.3 55.04 L174.3 52.55 L174.3 50.11 L174.3 47.75 L174.3 45.47 L174.3 43.27 L174.3 41.18 L174.3 39.28 L174.3 37.64 L174.3 36.33 L174.3 35.4 M200.08 183.4 L201.17 182.47 L202.46 181.16 L203.89 179.52 L205.41 177.62 L206.91 175.53 L208.26 173.33 L209.51 171.05 L210.71 168.69 L211.86 166.25 L212.98 163.76 L214.05 161.21 L215.08 158.62 L216.03 155.99 L216.91 153.32 L217.71 150.63 L218.46 147.91 L219.16 145.18 L219.77 142.43 L220.32 139.68 L220.8 136.93 L221.2 134.18 L221.53 131.42 L221.79 128.67 L222.03 125.92 L222.25 123.16 L222.42 120.41 L222.55 117.66 L222.64 114.91 L222.7 112.15 L222.73 109.4 L222.7 106.65 L222.64 103.89 L222.55 101.14 L222.42 98.39 L222.25 95.64 L222.03 92.88 L221.79 90.13 L221.53 87.38 L221.2 84.62 L220.8 81.87 L220.32 79.12 L219.77 76.37 L219.16 73.62 L218.46 70.89 L217.71 68.17 L216.91 65.48 L216.03 62.81 L215.08 60.18 L214.05 57.59 L212.98 55.04 L211.86 52.55 L210.71 50.11 L209.51 47.75 L208.26 45.47 L206.91 43.27 L205.41 41.18 L203.89 39.28 L202.46 37.64 L201.17 36.33 L200.08 35.4 M225.85 183.4 L228.05 182.47 L230.62 181.16 L233.48 179.52 L236.52 177.62 L239.51 175.53 L242.23 173.33 L244.73 171.05 L247.11 168.69 L249.42 166.25 L251.66 163.76 L253.81 161.21 L255.85 158.62 L257.77 155.99 L259.51 153.32 L261.11 150.63 L262.63 147.91 L264.02 145.18 L265.24 142.43 L266.33 139.68 L267.29 136.93 L268.1 134.18 L268.75 131.42 L269.28 128.67 L269.76 125.92 L270.2 123.16 L270.54 120.41 L270.8 117.66 L270.98 114.91 L271.1 112.15 L271.17 109.4 L271.1 106.65 L270.98 103.89 L270.8 101.14 L270.54 98.39 L270.2 95.64 L269.76 92.88 L269.28 90.13 L268.75 87.38 L268.1 84.62 L267.29 81.87 L266.33 79.12 L265.24 76.37 L264.02 73.62 L262.63 70.89 L261.11 68.17 L259.51 65.48 L257.77 62.81 L255.85 60.18 L253.81 57.59 L251.66 55.04 L249.42 52.55 L247.11 50.11 L244.73 47.75 L242.23 45.47 L239.51 43.27 L236.52 41.18 L233.48 39.28 L230.62 37.64 L228.05 36.33 L225.85 35.4" fill="none" stroke="#000" stroke-width="1.3"/>
<path d="M251.63 183.4 L253.75 182.82 L256.15 182.07 L258.78 181.16 L261.61 180.1 L264.57 178.92 L267.63 177.62 L270.66 176.24 L273.52 174.8 L276.19 173.33 L278.71 171.82 L281.15 170.27 L283.52 168.69 L285.84 167.07 L288.11 165.43 L290.34 163.76 L292.5 162.07 L294.6 160.35 L296.63 158.62 L298.57 156.87 L300.41 155.1 L302.12 153.32 L303.73 151.53 L305.29 149.72 L306.79 147.91 L308.21 146.09 L309.51 144.26 L310.71 142.43 L311.82 140.6 L312.85 138.76 L313.79 136.93 L314.62 135.09 L315.35 133.26 L315.98 131.42 L316.52 129.59 L317.01 127.75 L317.49 125.92 L317.94 124.08 L318.33 122.25 L318.66 120.41 L318.93 118.58 L319.15 116.74 L319.33 114.91 L319.46 113.07 L319.55 111.24 L319.6 109.4 L319.55 107.56 L319.46 105.73 L319.33 103.89 L319.15 102.06 L318.93 100.22 L318.66 98.39 L318.33 96.55 L317.94 94.72 L317.49 92.88 L317.01 91.05 L316.52 89.21 L315.98 87.38 L315.35 85.54 L314.62 83.71 L313.79 81.87 L312.85 80.04 L311.82 78.2 L310.71 76.37 L309.51 74.54 L308.21 72.71 L306.79 70.89 L305.29 69.08 L303.73 67.27 L302.12 65.48 L300.41 63.7 L298.57 61.93 L296.63 60.18 L294.6 58.45 L292.5 56.73 L290.34 55.04 L288.11 53.37 L285.84 51.73 L283.52 50.11 L281.15 48.53 L278.71 46.98 L276.19 45.47 L273.52 44 L270.66 42.56 L267.63 41.18 L264.57 39.88 L261.61 38.7 L258.78 37.64 L256.15 36.73 L253.75 35.98 L251.63 35.4 L96.97 35.4 L94.85 35.98 L92.45 36.73 L89.82 37.64 L86.99 38.7 L84.03 39.88 L80.97 41.18 L77.94 42.56 L75.08 44 L72.41 45.47 L69.89 46.98 L67.45 48.53 L65.08 50.11 L62.76 51.73 L60.49 53.37 L58.26 55.04 L56.1 56.73 L54 58.45 L51.97 60.18 L50.03 61.93 L48.19 63.7 L46.48 65.48 L44.87 67.27 L43.31 69.08 L41.81 70.89 L40.39 72.71 L39.09 74.54 L37.89 76.37 L36.78 78.2 L35.75 80.04 L34.81 81.87 L33.98 83.71 L33.25 85.54 L32.62 87.38 L32.08 89.21 L31.59 91.05 L31.11 92.88 L30.66 94.72 L30.27 96.55 L29.94 98.39 L29.67 100.22 L29.45 102.06 L29.27 103.89 L29.14 105.73 L29.05 107.56 L29 109.4 L29.05 111.24 L29.14 113.07 L29.27 114.91 L29.45 116.74 L29.67 118.58 L29.94 120.41 L30.27 122.25 L30.66 124.08 L31.11 125.92 L31.59 127.75 L32.08 129.59 L32.62 131.42 L33.25 133.26 L33.98 135.09 L34.81 136.93 L35.75 138.76 L36.78 140.6 L37.89 142.43 L39.09 144.26 L40.39 146.09 L41.81 147.91 L43.31 149.72 L44.87 151.53 L46.48 153.32 L48.19 155.1 L50.03 156.87 L51.97 158.62 L54 160.35 L56.1 162.07 L58.26 163.76 L60.49 165.43 L62.76 167.07 L65.08 168.69 L67.45 170.27 L69.89 171.82 L72.41 173.33 L75.08 174.8 L77.94 176.24 L80.97 177.62 L84.03 178.92 L86.99 180.1 L89.82 181.16 L92.45 182.07 L94.85 182.82 L96.97 183.4Z" fill="none" stroke="#000" stroke-width="1.7" stroke-linejoin="round"/>
<path d="M90.23 63.7 L132.26 63.7 L132.26 63.7 L132.57 62.81 L132.88 61.93 L133.2 61.05 L133.52 60.18 L133.86 59.31 L134.2 58.45 L134.55 57.59 L134.9 56.73 L135.26 55.88 L135.62 55.04 L135.99 54.2 L136.36 53.37 L136.74 52.55 L137.12 51.73 L137.51 50.92 L137.89 50.11 L138.29 49.32 L138.68 48.53 L139.09 47.75 L139.5 46.98 L139.5 46.98 L104.69 46.98 L104.69 46.98 L103.87 47.75 L103.07 48.53 L102.27 49.32 L101.49 50.11 L100.71 50.92 L99.94 51.73 L99.18 52.55 L98.42 53.37 L97.68 54.2 L96.94 55.04 L96.22 55.88 L95.5 56.73 L94.79 57.59 L94.1 58.45 L93.42 59.31 L92.75 60.18 L92.09 61.05 L91.45 61.93 L90.83 62.81 L90.23 63.7Z" fill="none" stroke="#d62728" stroke-width="2.8" stroke-linejoin="miter"/>
<text x="95.13" y="42.5" font-size="8.6" fill="#2a2a2a" stroke="#2a2a2a" stroke-width="0.18" text-anchor="middle">52</text>
<text x="127.91" y="42.5" font-size="8.6" fill="#2a2a2a" stroke="#2a2a2a" stroke-width="0.18" text-anchor="middle">53</text>
<text x="159.63" y="42.5" font-size="8.6" fill="#2a2a2a" stroke="#2a2a2a" stroke-width="0.18" text-anchor="middle">54</text>
<text x="192.88" y="42.5" font-size="8.6" fill="#2a2a2a" stroke="#2a2a2a" stroke-width="0.18" text-anchor="middle">49</text>
<text x="225.58" y="42.5" font-size="8.6" fill="#2a2a2a" stroke="#2a2a2a" stroke-width="0.18" text-anchor="middle">50</text>
<text x="258.53" y="42.5" font-size="8.6" fill="#2a2a2a" stroke="#2a2a2a" stroke-width="0.18" text-anchor="middle">51</text>
<text x="74.38" y="58.4" font-size="8.6" fill="#2a2a2a" stroke="#2a2a2a" stroke-width="0.18" text-anchor="middle">46</text>
<text x="115.31" y="58.4" font-size="8.6" fill="#2a2a2a" stroke="#2a2a2a" stroke-width="0.18" text-anchor="middle">47</text>
<text x="155.98" y="58.4" font-size="8.6" fill="#2a2a2a" stroke="#2a2a2a" stroke-width="0.18" text-anchor="middle">48</text>
<text x="196.58" y="58.4" font-size="8.6" fill="#2a2a2a" stroke="#2a2a2a" stroke-width="0.18" text-anchor="middle">43</text>
<text x="236.61" y="58.4" font-size="8.6" fill="#2a2a2a" stroke="#2a2a2a" stroke-width="0.18" text-anchor="middle">44</text>
<text x="277.16" y="58.4" font-size="8.6" fill="#2a2a2a" stroke="#2a2a2a" stroke-width="0.18" text-anchor="middle">45</text>
<text x="61.16" y="76.2" font-size="8.6" fill="#fff" stroke="#fff" stroke-width="0.18" text-anchor="middle">40</text>
<text x="106.61" y="76.2" font-size="8.6" fill="#2a2a2a" stroke="#2a2a2a" stroke-width="0.18" text-anchor="middle">41</text>
<text x="152.81" y="76.2" font-size="8.6" fill="#2a2a2a" stroke="#2a2a2a" stroke-width="0.18" text-anchor="middle">42</text>
<text x="196.53" y="76.2" font-size="8.6" fill="#2a2a2a" stroke="#2a2a2a" stroke-width="0.18" text-anchor="middle">37</text>
<text x="244.31" y="76.2" font-size="8.6" fill="#2a2a2a" stroke="#2a2a2a" stroke-width="0.18" text-anchor="middle">38</text>
<text x="290.21" y="76.2" font-size="8.6" fill="#2a2a2a" stroke="#2a2a2a" stroke-width="0.18" text-anchor="middle">39</text>
<text x="55.63" y="94.1" font-size="8.6" fill="#2a2a2a" stroke="#2a2a2a" stroke-width="0.18" text-anchor="middle">34</text>
<text x="103.38" y="94.1" font-size="8.6" fill="#fff" stroke="#fff" stroke-width="0.18" text-anchor="middle">35</text>
<text x="151.31" y="94.1" font-size="8.6" fill="#2a2a2a" stroke="#2a2a2a" stroke-width="0.18" text-anchor="middle">36</text>
<text x="199.43" y="94.1" font-size="8.6" fill="#2a2a2a" stroke="#2a2a2a" stroke-width="0.18" text-anchor="middle">31</text>
<text x="247.53" y="94.1" font-size="8.6" fill="#2a2a2a" stroke="#2a2a2a" stroke-width="0.18" text-anchor="middle">32</text>
<text x="295.71" y="94.1" font-size="8.6" fill="#2a2a2a" stroke="#2a2a2a" stroke-width="0.18" text-anchor="middle">33</text>
<text x="54.16" y="112.9" font-size="8.6" fill="#2a2a2a" stroke="#2a2a2a" stroke-width="0.18" text-anchor="middle">28</text>
<text x="102.56" y="112.9" font-size="8.6" fill="#2a2a2a" stroke="#2a2a2a" stroke-width="0.18" text-anchor="middle">29</text>
<text x="151.18" y="112.9" font-size="8.6" fill="#2a2a2a" stroke="#2a2a2a" stroke-width="0.18" text-anchor="middle">30</text>
<text x="199.33" y="112.9" font-size="8.6" fill="#2a2a2a" stroke="#2a2a2a" stroke-width="0.18" text-anchor="middle">25</text>
<text x="248.16" y="112.9" font-size="8.6" fill="#2a2a2a" stroke="#2a2a2a" stroke-width="0.18" text-anchor="middle">26</text>
<text x="296.78" y="112.9" font-size="8.6" fill="#2a2a2a" stroke="#2a2a2a" stroke-width="0.18" text-anchor="middle">27</text>
<text x="57.38" y="131.1" font-size="8.6" fill="#2a2a2a" stroke="#2a2a2a" stroke-width="0.18" text-anchor="middle">22</text>
<text x="104.46" y="131.1" font-size="8.6" fill="#2a2a2a" stroke="#2a2a2a" stroke-width="0.18" text-anchor="middle">23</text>
<text x="151.48" y="131.1" font-size="8.6" fill="#2a2a2a" stroke="#2a2a2a" stroke-width="0.18" text-anchor="middle">24</text>
<text x="199.26" y="131.1" font-size="8.6" fill="#2a2a2a" stroke="#2a2a2a" stroke-width="0.18" text-anchor="middle">19</text>
<text x="246.33" y="131.1" font-size="8.6" fill="#2a2a2a" stroke="#2a2a2a" stroke-width="0.18" text-anchor="middle">20</text>
<text x="293.48" y="131.1" font-size="8.6" fill="#2a2a2a" stroke="#2a2a2a" stroke-width="0.18" text-anchor="middle">21</text>
<text x="66.46" y="149.1" font-size="8.6" fill="#2a2a2a" stroke="#2a2a2a" stroke-width="0.18" text-anchor="middle">16</text>
<text x="110.48" y="149.1" font-size="8.6" fill="#2a2a2a" stroke="#2a2a2a" stroke-width="0.18" text-anchor="middle">17</text>
<text x="153.56" y="149.1" font-size="8.6" fill="#2a2a2a" stroke="#2a2a2a" stroke-width="0.18" text-anchor="middle">18</text>
<text x="197.66" y="149.1" font-size="8.6" fill="#2a2a2a" stroke="#2a2a2a" stroke-width="0.18" text-anchor="middle">13</text>
<text x="241.18" y="149.1" font-size="8.6" fill="#2a2a2a" stroke="#2a2a2a" stroke-width="0.18" text-anchor="middle">14</text>
<text x="284.63" y="149.1" font-size="8.6" fill="#2a2a2a" stroke="#2a2a2a" stroke-width="0.18" text-anchor="middle">15</text>
<text x="83.83" y="166.6" font-size="8.6" fill="#2a2a2a" stroke="#2a2a2a" stroke-width="0.18" text-anchor="middle">10</text>
<text x="120.89" y="166.6" font-size="8.6" fill="#2a2a2a" stroke="#2a2a2a" stroke-width="0.18" text-anchor="middle">11</text>
<text x="157.58" y="166.6" font-size="8.6" fill="#2a2a2a" stroke="#2a2a2a" stroke-width="0.18" text-anchor="middle">12</text>
<text x="192.09" y="166.6" font-size="8.6" fill="#2a2a2a" stroke="#2a2a2a" stroke-width="0.18" text-anchor="middle">7</text>
<text x="228.92" y="166.6" font-size="8.6" fill="#2a2a2a" stroke="#2a2a2a" stroke-width="0.18" text-anchor="middle">8</text>
<text x="266.19" y="166.6" font-size="8.6" fill="#2a2a2a" stroke="#2a2a2a" stroke-width="0.18" text-anchor="middle">9</text>
<text x="104.72" y="180.5" font-size="8.6" fill="#2a2a2a" stroke="#2a2a2a" stroke-width="0.18" text-anchor="middle">4</text>
<text x="132.69" y="180.5" font-size="8.6" fill="#2a2a2a" stroke="#2a2a2a" stroke-width="0.18" text-anchor="middle">5</text>
<text x="160.77" y="180.5" font-size="8.6" fill="#2a2a2a" stroke="#2a2a2a" stroke-width="0.18" text-anchor="middle">6</text>
<text x="188.29" y="180.5" font-size="8.6" fill="#2a2a2a" stroke="#2a2a2a" stroke-width="0.18" text-anchor="middle">1</text>
<text x="216.39" y="180.5" font-size="8.6" fill="#2a2a2a" stroke="#2a2a2a" stroke-width="0.18" text-anchor="middle">2</text>
<text x="244.32" y="180.5" font-size="8.6" fill="#2a2a2a" stroke="#2a2a2a" stroke-width="0.18" text-anchor="middle">3</text>
</g>
<text transform="translate(58.1,27.6) scale(0.9931,1)" font-size="10.4" fill="#111" stroke="#111" stroke-width="0.18">Sources of precip over NE N. America [1981-2022]</text>
<text transform="translate(39.16,50) scale(0.9886,1)" font-size="10.4" fill="#111" stroke="#111" stroke-width="0.18">70°N</text>
<text transform="translate(18.6,67.3) scale(0.9909,1)" font-size="10.4" fill="#111" stroke="#111" stroke-width="0.18">50°N</text>
<text transform="translate(5,85) scale(0.9909,1)" font-size="10.4" fill="#111" stroke="#111" stroke-width="0.18">30°N</text>
<text transform="translate(-0.2,103.4) scale(0.9954,1)" font-size="10.4" fill="#111" stroke="#111" stroke-width="0.18">10°N</text>
<text transform="translate(0.72,121.4) scale(0.9766,1)" font-size="10.4" fill="#111" stroke="#111" stroke-width="0.18">10°S</text>
<text transform="translate(6.01,139.9) scale(0.9725,1)" font-size="10.4" fill="#111" stroke="#111" stroke-width="0.18">30°S</text>
<text transform="translate(19.21,158.1) scale(0.9817,1)" font-size="10.4" fill="#111" stroke="#111" stroke-width="0.18">50°S</text>
<text transform="translate(40.27,174.8) scale(0.9561,1)" font-size="10.4" fill="#111" stroke="#111" stroke-width="0.18">70°S</text>
<text transform="translate(287.87,50) scale(0.9565,1)" font-size="10.4" fill="#111" stroke="#111" stroke-width="0.18">70°N</text>
<text transform="translate(286.87,174.8) scale(0.9654,1)" font-size="10.4" fill="#111" stroke="#111" stroke-width="0.18">70°S</text>
<text transform="translate(79.12,196.9) scale(0.9770,1)" font-size="10.4" fill="#111" stroke="#111" stroke-width="0.18">180°W</text>
<text transform="translate(135.92,196.9) scale(0.9621,1)" font-size="10.4" fill="#111" stroke="#111" stroke-width="0.18">60°W</text>
<text transform="translate(169.19,196.9) scale(1.0168,1)" font-size="10.4" fill="#111" stroke="#111" stroke-width="0.18">0°</text>
<text transform="translate(188.91,196.9) scale(0.9839,1)" font-size="10.4" fill="#111" stroke="#111" stroke-width="0.18">60°E</text>
<text transform="translate(211.19,196.9) scale(1.0184,1)" font-size="10.4" fill="#111" stroke="#111" stroke-width="0.18">120°E</text>
<text transform="translate(239.41,196.9) scale(0.9816,1)" font-size="10.4" fill="#111" stroke="#111" stroke-width="0.18">180°E</text>
<rect x="28.1" y="215.5" width="14.55" height="14.6" fill="#1f2d62"/>
<rect x="42.65" y="215.5" width="14.55" height="14.6" fill="#2b4b8c"/>
<rect x="57.2" y="215.5" width="14.55" height="14.6" fill="#3c6ab2"/>
<rect x="71.75" y="215.5" width="14.55" height="14.6" fill="#5497d0"/>
<rect x="86.3" y="215.5" width="14.55" height="14.6" fill="#78bde2"/>
<rect x="100.85" y="215.5" width="14.55" height="14.6" fill="#9bd9f0"/>
<rect x="115.4" y="215.5" width="14.55" height="14.6" fill="#b7e8f4"/>
<rect x="129.95" y="215.5" width="14.55" height="14.6" fill="#daf3f8"/>
<rect x="144.5" y="215.5" width="14.55" height="14.6" fill="#eef7fa"/>
<rect x="159.05" y="215.5" width="14.55" height="14.6" fill="#ffffff"/>
<rect x="173.6" y="215.5" width="14.55" height="14.6" fill="#ffffff"/>
<rect x="188.15" y="215.5" width="14.55" height="14.6" fill="#f7f9e0"/>
<rect x="202.7" y="215.5" width="14.55" height="14.6" fill="#f1efa2"/>
<rect x="217.25" y="215.5" width="14.55" height="14.6" fill="#efcb62"/>
<rect x="231.8" y="215.5" width="14.55" height="14.6" fill="#eca840"/>
<rect x="246.35" y="215.5" width="14.55" height="14.6" fill="#ed8534"/>
<rect x="260.9" y="215.5" width="14.55" height="14.6" fill="#ea5a2c"/>
<rect x="275.45" y="215.5" width="14.55" height="14.6" fill="#e13431"/>
<rect x="290" y="215.5" width="14.55" height="14.6" fill="#c4232b"/>
<rect x="304.55" y="215.5" width="14.55" height="14.6" fill="#981c22"/>
<path d="M42.65 215.5 V230.1 M57.2 215.5 V230.1 M71.75 215.5 V230.1 M86.3 215.5 V230.1 M100.85 215.5 V230.1 M115.4 215.5 V230.1 M129.95 215.5 V230.1 M144.5 215.5 V230.1 M159.05 215.5 V230.1 M173.6 215.5 V230.1 M188.15 215.5 V230.1 M202.7 215.5 V230.1 M217.25 215.5 V230.1 M231.8 215.5 V230.1 M246.35 215.5 V230.1 M260.9 215.5 V230.1 M275.45 215.5 V230.1 M290 215.5 V230.1 M304.55 215.5 V230.1" stroke="#1a1a1a" stroke-width="1.2" fill="none"/>
<rect x="28.1" y="215.5" width="291" height="14.6" fill="none" stroke="#222" stroke-width="1.1"/>
<text transform="translate(17.46,242.1) scale(1.0797,1)" font-size="10.3" fill="#111" stroke="#111" stroke-width="0.18">−2.0</text>
<text transform="translate(46.56,242.1) scale(1.0825,1)" font-size="10.3" fill="#111" stroke="#111" stroke-width="0.18">−1.6</text>
<text transform="translate(75.66,242.1) scale(1.0881,1)" font-size="10.3" fill="#111" stroke="#111" stroke-width="0.18">−1.2</text>
<text transform="translate(104.76,242.1) scale(1.0825,1)" font-size="10.3" fill="#111" stroke="#111" stroke-width="0.18">−0.8</text>
<text transform="translate(133.86,242.1) scale(1.0742,1)" font-size="10.3" fill="#111" stroke="#111" stroke-width="0.18">−0.4</text>
<text transform="translate(166.69,242.1) scale(1.0185,1)" font-size="10.3" fill="#111" stroke="#111" stroke-width="0.18">0.0</text>
<text transform="translate(195.8,242.1) scale(1.0110,1)" font-size="10.3" fill="#111" stroke="#111" stroke-width="0.18">0.4</text>
<text transform="translate(224.89,242.1) scale(1.0222,1)" font-size="10.3" fill="#111" stroke="#111" stroke-width="0.18">0.8</text>
<text transform="translate(253.55,242.1) scale(1.0615,1)" font-size="10.3" fill="#111" stroke="#111" stroke-width="0.18">1.2</text>
<text transform="translate(282.66,242.1) scale(1.0534,1)" font-size="10.3" fill="#111" stroke="#111" stroke-width="0.18">1.6</text>
<text transform="translate(312.09,242.1) scale(1.0260,1)" font-size="10.3" fill="#111" stroke="#111" stroke-width="0.18">2.0</text>
<text transform="translate(53.55,257.1) scale(1.0372,1)" font-size="10.2" fill="#111" stroke="#111" stroke-width="0.18">Winter-Spring precipitation trend [10<tspan font-size="7.14" dy="-3.88">−3</tspan><tspan dy="3.88"> Sv decade</tspan><tspan font-size="7.14" dy="-3.88">−1</tspan><tspan dy="3.88">]</tspan></text>
<text transform="translate(19.91,293.2) scale(0.9913,1)" font-size="23.5" font-weight="bold" fill="#000">c</text>
<g>
<path d="M174.3 326.68 L209.1 326.68 L209.1 326.68 L208.69 325.92 L208.26 325.17 L207.83 324.43 L207.37 323.7 L206.91 322.97 L206.42 322.26 L205.92 321.56 L205.41 320.88 L204.9 320.22 L204.39 319.58 L203.89 318.98 L203.4 318.4 L202.92 317.85 L202.46 317.34 L202.01 316.87 L201.58 316.43 L201.17 316.03 L200.78 315.68 L200.42 315.37 L200.08 315.1 L200.08 315.1 L174.3 315.1 L174.3 315.1 L174.3 315.37 L174.3 315.68 L174.3 316.03 L174.3 316.43 L174.3 316.87 L174.3 317.34 L174.3 317.85 L174.3 318.4 L174.3 318.98 L174.3 319.58 L174.3 320.22 L174.3 320.88 L174.3 321.56 L174.3 322.26 L174.3 322.97 L174.3 323.7 L174.3 324.43 L174.3 325.17 L174.3 325.92 L174.3 326.68Z" fill="#eca840"/>
<path d="M132.26 343.4 L174.3 343.4 L174.3 343.4 L174.3 342.51 L174.3 341.63 L174.3 340.75 L174.3 339.88 L174.3 339.01 L174.3 338.15 L174.3 337.29 L174.3 336.43 L174.3 335.58 L174.3 334.74 L174.3 333.9 L174.3 333.07 L174.3 332.25 L174.3 331.43 L174.3 330.62 L174.3 329.81 L174.3 329.02 L174.3 328.23 L174.3 327.45 L174.3 326.68 L174.3 326.68 L139.5 326.68 L139.5 326.68 L139.09 327.45 L138.68 328.23 L138.29 329.02 L137.89 329.81 L137.51 330.62 L137.12 331.43 L136.74 332.25 L136.36 333.07 L135.99 333.9 L135.62 334.74 L135.26 335.58 L134.9 336.43 L134.55 337.29 L134.2 338.15 L133.86 339.01 L133.52 339.88 L133.2 340.75 L132.88 341.63 L132.57 342.51 L132.26 343.4Z" fill="#1f2d62"/>
<path d="M174.3 343.4 L216.34 343.4 L216.34 343.4 L216.03 342.51 L215.72 341.63 L215.4 340.75 L215.08 339.88 L214.74 339.01 L214.4 338.15 L214.05 337.29 L213.7 336.43 L213.34 335.58 L212.98 334.74 L212.61 333.9 L212.24 333.07 L211.86 332.25 L211.48 331.43 L211.09 330.62 L210.71 329.81 L210.31 329.02 L209.92 328.23 L209.51 327.45 L209.1 326.68 L209.1 326.68 L174.3 326.68 L174.3 326.68 L174.3 327.45 L174.3 328.23 L174.3 329.02 L174.3 329.81 L174.3 330.62 L174.3 331.43 L174.3 332.25 L174.3 333.07 L174.3 333.9 L174.3 334.74 L174.3 335.58 L174.3 336.43 L174.3 337.29 L174.3 338.15 L174.3 339.01 L174.3 339.88 L174.3 340.75 L174.3 341.63 L174.3 342.51 L174.3 343.4Z" fill="#f7f9e0"/>
<path d="M34.81 361.57 L81.31 361.57 L81.31 361.57 L81.61 360.65 L81.93 359.74 L82.27 358.82 L82.62 357.9 L82.98 356.98 L83.36 356.07 L83.75 355.15 L84.16 354.24 L84.58 353.32 L85.03 352.41 L85.49 351.5 L85.97 350.59 L86.47 349.68 L86.97 348.78 L87.49 347.87 L88.01 346.97 L88.54 346.08 L89.09 345.18 L89.65 344.29 L90.23 343.4 L90.23 343.4 L48.19 343.4 L48.19 343.4 L47.32 344.29 L46.48 345.18 L45.67 346.08 L44.87 346.97 L44.08 347.87 L43.31 348.78 L42.55 349.68 L41.81 350.59 L41.09 351.5 L40.39 352.41 L39.73 353.32 L39.09 354.24 L38.48 355.15 L37.89 356.07 L37.33 356.98 L36.78 357.9 L36.25 358.82 L35.75 359.74 L35.27 360.65 L34.81 361.57Z" fill="#f1efa2"/>
<path d="M81.31 361.57 L127.8 361.57 L127.8 361.57 L127.96 360.65 L128.12 359.74 L128.28 358.82 L128.46 357.9 L128.64 356.98 L128.83 356.07 L129.03 355.15 L129.23 354.24 L129.44 353.32 L129.66 352.41 L129.9 351.5 L130.14 350.59 L130.38 349.68 L130.64 348.78 L130.89 347.87 L131.16 346.97 L131.42 346.08 L131.69 345.18 L131.97 344.29 L132.26 343.4 L132.26 343.4 L90.23 343.4 L90.23 343.4 L89.65 344.29 L89.09 345.18 L88.54 346.08 L88.01 346.97 L87.49 347.87 L86.97 348.78 L86.47 349.68 L85.97 350.59 L85.49 351.5 L85.03 352.41 L84.58 353.32 L84.16 354.24 L83.75 355.15 L83.36 356.07 L82.98 356.98 L82.62 357.9 L82.27 358.82 L81.93 359.74 L81.61 360.65 L81.31 361.57Z" fill="#efcb62"/>
<path d="M174.3 361.57 L220.8 361.57 L220.8 361.57 L220.64 360.65 L220.48 359.74 L220.32 358.82 L220.14 357.9 L219.96 356.98 L219.77 356.07 L219.57 355.15 L219.37 354.24 L219.16 353.32 L218.94 352.41 L218.7 351.5 L218.46 350.59 L218.22 349.68 L217.96 348.78 L217.71 347.87 L217.44 346.97 L217.18 346.08 L216.91 345.18 L216.63 344.29 L216.34 343.4 L216.34 343.4 L174.3 343.4 L174.3 343.4 L174.3 344.29 L174.3 345.18 L174.3 346.08 L174.3 346.97 L174.3 347.87 L174.3 348.78 L174.3 349.68 L174.3 350.59 L174.3 351.5 L174.3 352.41 L174.3 353.32 L174.3 354.24 L174.3 355.15 L174.3 356.07 L174.3 356.98 L174.3 357.9 L174.3 358.82 L174.3 359.74 L174.3 360.65 L174.3 361.57Z" fill="#981c22"/>
<path d="M220.8 361.57 L267.29 361.57 L267.29 361.57 L266.99 360.65 L266.67 359.74 L266.33 358.82 L265.98 357.9 L265.62 356.98 L265.24 356.07 L264.85 355.15 L264.44 354.24 L264.02 353.32 L263.57 352.41 L263.11 351.5 L262.63 350.59 L262.13 349.68 L261.63 348.78 L261.11 347.87 L260.59 346.97 L260.06 346.08 L259.51 345.18 L258.95 344.29 L258.37 343.4 L258.37 343.4 L216.34 343.4 L216.34 343.4 L216.63 344.29 L216.91 345.18 L217.18 346.08 L217.44 346.97 L217.71 347.87 L217.96 348.78 L218.22 349.68 L218.46 350.59 L218.7 351.5 L218.94 352.41 L219.16 353.32 L219.37 354.24 L219.57 355.15 L219.77 356.07 L219.96 356.98 L220.14 357.9 L220.32 358.82 L220.48 359.74 L220.64 360.65 L220.8 361.57Z" fill="#eef7fa"/>
<path d="M267.29 361.57 L313.79 361.57 L313.79 361.57 L313.33 360.65 L312.85 359.74 L312.35 358.82 L311.82 357.9 L311.27 356.98 L310.71 356.07 L310.12 355.15 L309.51 354.24 L308.87 353.32 L308.21 352.41 L307.51 351.5 L306.79 350.59 L306.05 349.68 L305.29 348.78 L304.52 347.87 L303.73 346.97 L302.93 346.08 L302.12 345.18 L301.28 344.29 L300.41 343.4 L300.41 343.4 L258.37 343.4 L258.37 343.4 L258.95 344.29 L259.51 345.18 L260.06 346.08 L260.59 346.97 L261.11 347.87 L261.63 348.78 L262.13 349.68 L262.63 350.59 L263.11 351.5 L263.57 352.41 L264.02 353.32 L264.44 354.24 L264.85 355.15 L265.24 356.07 L265.62 356.98 L265.98 357.9 L266.33 358.82 L266.67 359.74 L266.99 360.65 L267.29 361.57Z" fill="#f7f9e0"/>
<path d="M29.67 379.92 L77.88 379.92 L77.88 379.92 L77.96 379.01 L78.06 378.09 L78.16 377.17 L78.28 376.25 L78.4 375.34 L78.54 374.42 L78.68 373.5 L78.84 372.58 L79 371.67 L79.16 370.75 L79.32 369.83 L79.49 368.91 L79.66 368 L79.85 367.08 L80.05 366.16 L80.27 365.24 L80.5 364.32 L80.75 363.41 L81.02 362.49 L81.31 361.57 L81.31 361.57 L34.81 361.57 L34.81 361.57 L34.38 362.49 L33.98 363.41 L33.6 364.32 L33.25 365.24 L32.92 366.16 L32.62 367.08 L32.34 368 L32.08 368.91 L31.83 369.83 L31.59 370.75 L31.34 371.67 L31.11 372.58 L30.88 373.5 L30.66 374.42 L30.45 375.34 L30.27 376.25 L30.09 377.17 L29.94 378.09 L29.8 379.01 L29.67 379.92Z" fill="#f7f9e0"/>
<path d="M77.88 379.92 L126.09 379.92 L126.09 379.92 L126.13 379.01 L126.18 378.09 L126.23 377.17 L126.29 376.25 L126.35 375.34 L126.42 374.42 L126.49 373.5 L126.57 372.58 L126.65 371.67 L126.73 370.75 L126.81 369.83 L126.89 368.91 L126.98 368 L127.07 367.08 L127.17 366.16 L127.28 365.24 L127.4 364.32 L127.53 363.41 L127.66 362.49 L127.8 361.57 L127.8 361.57 L81.31 361.57 L81.31 361.57 L81.02 362.49 L80.75 363.41 L80.5 364.32 L80.27 365.24 L80.05 366.16 L79.85 367.08 L79.66 368 L79.49 368.91 L79.32 369.83 L79.16 370.75 L79 371.67 L78.84 372.58 L78.68 373.5 L78.54 374.42 L78.4 375.34 L78.28 376.25 L78.16 377.17 L78.06 378.09 L77.96 379.01 L77.88 379.92Z" fill="#ea5a2c"/>
<path d="M126.09 379.92 L174.3 379.92 L174.3 379.92 L174.3 379.01 L174.3 378.09 L174.3 377.17 L174.3 376.25 L174.3 375.34 L174.3 374.42 L174.3 373.5 L174.3 372.58 L174.3 371.67 L174.3 370.75 L174.3 369.83 L174.3 368.91 L174.3 368 L174.3 367.08 L174.3 366.16 L174.3 365.24 L174.3 364.32 L174.3 363.41 L174.3 362.49 L174.3 361.57 L174.3 361.57 L127.8 361.57 L127.8 361.57 L127.66 362.49 L127.53 363.41 L127.4 364.32 L127.28 365.24 L127.17 366.16 L127.07 367.08 L126.98 368 L126.89 368.91 L126.81 369.83 L126.73 370.75 L126.65 371.67 L126.57 372.58 L126.49 373.5 L126.42 374.42 L126.35 375.34 L126.29 376.25 L126.23 377.17 L126.18 378.09 L126.13 379.01 L126.09 379.92Z" fill="#f1efa2"/>
<path d="M174.3 379.92 L222.51 379.92 L222.51 379.92 L222.47 379.01 L222.42 378.09 L222.37 377.17 L222.31 376.25 L222.25 375.34 L222.18 374.42 L222.11 373.5 L222.03 372.58 L221.95 371.67 L221.87 370.75 L221.79 369.83 L221.71 368.91 L221.62 368 L221.53 367.08 L221.43 366.16 L221.32 365.24 L221.2 364.32 L221.07 363.41 L220.94 362.49 L220.8 361.57 L220.8 361.57 L174.3 361.57 L174.3 361.57 L174.3 362.49 L174.3 363.41 L174.3 364.32 L174.3 365.24 L174.3 366.16 L174.3 367.08 L174.3 368 L174.3 368.91 L174.3 369.83 L174.3 370.75 L174.3 371.67 L174.3 372.58 L174.3 373.5 L174.3 374.42 L174.3 375.34 L174.3 376.25 L174.3 377.17 L174.3 378.09 L174.3 379.01 L174.3 379.92Z" fill="#f1efa2"/>
<path d="M270.72 379.92 L318.93 379.92 L318.93 379.92 L318.8 379.01 L318.66 378.09 L318.51 377.17 L318.33 376.25 L318.15 375.34 L317.94 374.42 L317.72 373.5 L317.49 372.58 L317.26 371.67 L317.01 370.75 L316.77 369.83 L316.52 368.91 L316.26 368 L315.98 367.08 L315.68 366.16 L315.35 365.24 L315 364.32 L314.62 363.41 L314.22 362.49 L313.79 361.57 L313.79 361.57 L267.29 361.57 L267.29 361.57 L267.58 362.49 L267.85 363.41 L268.1 364.32 L268.33 365.24 L268.55 366.16 L268.75 367.08 L268.94 368 L269.11 368.91 L269.28 369.83 L269.44 370.75 L269.6 371.67 L269.76 372.58 L269.92 373.5 L270.06 374.42 L270.2 375.34 L270.32 376.25 L270.44 377.17 L270.54 378.09 L270.64 379.01 L270.72 379.92Z" fill="#f1efa2"/>
<path d="M126.09 398.28 L174.3 398.28 L174.3 398.28 L174.3 397.36 L174.3 396.44 L174.3 395.52 L174.3 394.61 L174.3 393.69 L174.3 392.77 L174.3 391.85 L174.3 390.94 L174.3 390.02 L174.3 389.1 L174.3 388.18 L174.3 387.26 L174.3 386.35 L174.3 385.43 L174.3 384.51 L174.3 383.59 L174.3 382.68 L174.3 381.76 L174.3 380.84 L174.3 379.92 L174.3 379.92 L126.09 379.92 L126.09 379.92 L126.05 380.84 L126.02 381.76 L125.99 382.68 L125.96 383.59 L125.93 384.51 L125.91 385.43 L125.9 386.35 L125.88 387.26 L125.87 388.18 L125.87 389.1 L125.87 390.02 L125.88 390.94 L125.9 391.85 L125.91 392.77 L125.93 393.69 L125.96 394.61 L125.99 395.52 L126.02 396.44 L126.05 397.36 L126.09 398.28Z" fill="#f1efa2"/>
<path d="M81.31 416.63 L127.8 416.63 L127.8 416.63 L127.66 415.71 L127.53 414.79 L127.4 413.88 L127.28 412.96 L127.17 412.04 L127.07 411.12 L126.98 410.2 L126.89 409.29 L126.81 408.37 L126.73 407.45 L126.65 406.53 L126.57 405.62 L126.49 404.7 L126.42 403.78 L126.35 402.86 L126.29 401.95 L126.23 401.03 L126.18 400.11 L126.13 399.19 L126.09 398.28 L126.09 398.28 L77.88 398.28 L77.88 398.28 L77.96 399.19 L78.06 400.11 L78.16 401.03 L78.28 401.95 L78.4 402.86 L78.54 403.78 L78.68 404.7 L78.84 405.62 L79 406.53 L79.16 407.45 L79.32 408.37 L79.49 409.29 L79.66 410.2 L79.85 411.12 L80.05 412.04 L80.27 412.96 L80.5 413.88 L80.75 414.79 L81.02 415.71 L81.31 416.63Z" fill="#f7f9e0"/>
<path d="M47.75 368.82 L48.48 368.73 L49.3 369.28 L49.63 369.56 L50.41 369.92 L50.74 370.56 L51.34 371.02 L50.7 371.76 L50.53 371.12 M293.81 394.24 L295.2 393.96 L296.46 392.95 L297.1 393.05 L295.97 394.51 L294.74 394.79 L293.81 394.24 M295.97 391.49 L297.14 392.4 L297.73 393.41 M299.41 394.79 L299.95 395.16 L301.05 396.44 M302.06 396.72 L303.53 398.09 M303.35 396.72 L304.11 397.91 M304.28 407.64 L305.22 408.64 L306.17 409.56 L305.76 409.65 L304.5 408.37 L304.28 407.64 M307.47 402.68 L307.75 403.69 M308.43 404.24 L308.51 405.25 M308.72 406.35 L308.64 406.99 M315.46 405.16 L316.46 404.97 L316.09 405.8 L315.46 405.16 M316.88 404.24 L317.88 404.06 M277.19 387.45 L277.62 388.64 L278.25 387.91 L277.77 389.83 M277.55 392.04 L279.8 392.22 M275.94 392.04 L276.9 392.31 M267.21 396.9 L268.41 397.08 L270.03 396.9 L271.62 397.08 L273.26 396.72 M271.03 376.8 L271.71 377.81 M268.6 381.48 L270.21 378.73 M273.94 377.63 L275.04 378.91 L274.74 379.92 M272.67 379.28 L273.36 380.66 M108.99 322.26 L112.61 321.22 L113.22 321.91 L110.4 322.4 L108.99 322.26 M120.36 322.62 L122.78 321.91 L122.66 321.56 L120.48 322.05 L120.36 322.62 M121.98 323.12 L123.91 322.83 L123.13 322.54 L121.98 323.12 M124.52 320.88 L128.67 320.88 L131.03 319.28 L128.93 318.98 L125.75 319.9 L124.52 320.88 M116 327.68 L117.96 327.45 L118.42 326.91 L117.32 326.83 L116 327.68 M121.01 331.43 L123.85 331.84 L124.67 331.02 L123.22 329.97 L121.12 330.38 L121.01 331.43 M129.6 324.43 L131.56 324.06 L131.24 323.77 L129.4 323.99 L129.6 324.43 M197.87 319.58 L201.43 318.98 L205.14 319.28 L201.98 319.71 L197.87 319.58 M117.64 327.84 L118.87 327.06 L120.67 325.32 L121.94 325.17 L121.25 326.3 L121.6 327.3 L122.3 327.92 M86.92 344.91 L86.06 344.38 L85.04 343.31 L84.93 342.69 L86.91 343.13 L86.92 344.91 M83.51 341.63 L84.23 340.31 L83.91 339.88 L83.17 341.19 L83.51 341.63 M76.91 327.84 L80.44 326.6 L84.93 325.69 L86.97 326.07 L88.76 326.45 L92.22 326.91 L94.67 327.3 L98.13 326.83 L100.23 326.53 L101.86 327.14 L105.13 327.37 L106.86 328 L109.82 328 L112.63 328.15 L116 328.39 L118.29 327.76 L120.56 327.14 L122.3 327.92 L124.53 326.91 L125.95 327.76 L125.27 329.18 L123 329.42 L120.84 330.78 L118.11 331.59 L115.06 333.24 L112.97 335.24 L113.12 336.6 L114.78 337.11 L116.39 338.32 L118.45 338.84 L117.99 340.75 L118.43 342.25 L120.1 341.19 L120.87 339.36 L123.06 337.71 L124.23 336.01 L124.35 334.15 L125.25 332.82 L127.65 332.82 L128.73 333.74 L128.99 335.75 L130.09 336.18 L132.61 334.57 L132.74 336.86 L133.2 338.15 L134.53 339.01 L135.41 340.31 L135.78 341.63 L134.05 342.25 L132.32 343.22 L129.18 343.22 L127.65 343.58 L125.46 344.73 L123.53 346.16 L126.27 344.47 L128.51 344.11 L128.79 344.73 L127.76 345.9 L127.98 346.79 L129.97 347.33 L130.85 346.79 L131.02 347.42 L128.25 348.24 L126.33 349.05 L126.29 348.24 L127.72 347.6 L125.83 347.87 L124.54 348.51 L123.09 349.14 L122.33 350.14 L122.72 350.77 L121.5 351.14 L119.62 351.68 L119.3 352.23 L118.28 353.41 L117.67 353.96 L116.95 355.15 L116.91 356.43 L116.02 357.26 L114.68 357.99 L113.6 358.64 L111.89 360.01 L111.3 361.57 L111.58 363.22 L111.69 364.78 L111.18 365.98 L110.57 365.88 L110.28 364.78 L109.79 363.59 L109.94 362.49 L109.23 361.48 L108.14 361.85 L107.35 361.2 L106.22 361.11 L104.99 361.39 L104.91 362.4 L104.02 362.21 L103.28 362.03 L101.78 361.85 L100.52 362.21 L98.88 363.22 L98.17 364.32 L97.89 365.7 L97.32 367.54 L97.12 369.37 L97.39 370.75 L98.06 371.67 L99.15 372.4 L100.79 372.03 L101.84 371.85 L102.58 370.47 L102.75 369.83 L104.31 369.37 L105.5 369.37 L105.08 370.75 L104.6 372.03 L104.08 373.04 L103.68 374.42 L105.66 374.51 L107.25 374.6 L107.71 375.52 L107.29 377.63 L107.11 379.01 L107.98 380.38 L108.92 380.93 L110.16 380.29 L111.19 380.47 L112.12 381.21 L113.04 380.57 L113.58 379.47 L114.26 378.91 L115.47 378.73 L116.39 378.09 L116.83 378.82 L116.54 379.74 L116.97 380.66 L117.28 379.47 L116.86 378.36 L118.01 377.91 L118.45 378.64 L119.53 379.37 L121.3 379.37 L122.74 379.37 L124.11 379.37 L125.29 379.83 L125.55 381.21 L126.82 381.76 L128.14 383.41 L129.99 383.59 L131.59 383.96 L132.78 385.06 L133.55 387.26 L133.94 388.55 L134.59 389.56 L135.24 390.2 L136.36 389.83 L138.39 391.12 L140.42 391.58 L142.44 391.85 L144.31 393.5 L145.85 394.06 L146.29 395.98 L146 397.73 L144.6 399.19 L143.46 401.03 L143.13 402.86 L143.25 405.16 L142.73 407.18 L141.97 409.01 L141.18 410.2 L139.23 410.48 L137.7 411.12 L136.28 412.77 L136.43 414.98 L135.55 416.63 L134.63 418.28 L133.62 420.12 L132.78 420.94 L131.27 421.03 L130.92 421.95 L131.44 423.05 L131.07 424.15 L129.77 424.69 L127.78 424.79 L128.1 426.34 L126.19 426.7 L127.18 428.06 L126.79 428.97 L126.84 430.33 L125.85 431.5 L127.37 432.84 L126.63 434.36 L126.23 435.51 L127.05 436.83 L126.27 437.27 L126.05 438.32 L124.37 437.62 L122.86 436.57 L121.48 434.8 L121.5 433.47 L120.32 431.68 L120.39 429.87 L120.5 428.06 L119.61 426.24 L119.16 423.96 L119.24 421.67 L119.49 419.84 L119.06 417.09 L118.79 414.79 L118.85 412.04 L118.79 408.83 L118.42 406.08 L117.46 405.25 L115.66 403.97 L113.5 402.13 L112.55 400.11 L111.2 397.82 L110.05 395.71 L108.88 394.61 L109.15 393.23 L109.53 392.13 L109.09 390.48 L109.72 388.82 L110.14 388 L110.87 387.45 L111.71 385.98 L111.98 384.79 L111.96 383.04 L111.51 382.31 L110.77 380.93 L109.93 381.48 L109.49 382.31 L108.56 381.67 L107.06 381.03 L105.51 380.02 L105.42 379.01 L104.43 377.26 L103.18 376.9 L101.16 376.25 L100.03 374.88 L98.75 374.23 L97.26 374.69 L95.49 374.14 L93.85 373.32 L92 372.31 L90.7 370.47 L91.15 369.1 L90.83 368.18 L89.78 366.62 L88.57 365.61 L87.96 363.87 L87.06 362.58 L86.89 360.56 L85.92 360.01 L85.73 361.57 L86.46 363.04 L86.64 364.78 L87.3 366.8 L87.98 367.81 L87.41 367.44 L86.22 366.34 L86.41 364.78 L85.28 363.68 L85.04 362.03 L84.47 360.65 L84.33 359.28 L83.77 358.08 L83.15 357.53 L82.38 357.35 L82.19 355.61 L82.16 354.51 L81.77 353.41 L82.02 352.05 L82.95 350.59 L83.17 349.68 L85.24 346.79 L85.98 344.82 L87.07 345 L87.45 344.2 L86.73 343.4 L85.61 342.51 L86.27 341.19 L86.31 339.44 L85.96 338.66 L86.18 337.29 L85.97 336.09 L84.91 336.18 L84.2 334.91 L82.12 334.74 L80.99 333.99 L78.75 334.57 L77.15 335.16 L75.71 335.41 L77.29 334.15 L74.69 335.33 L73.04 336.43 L70.52 337.37 L68.3 338.15 L65.72 338.75 L64 339.1 L62.67 339.53 L65.75 338.4 L69.61 336.69 L71.95 335.75 L70.74 335.67 L68.72 335.84 L69.77 334.82 L68.76 334.32 L69.14 333.49 L70.07 332.49 L71.53 332.08 L74.95 331.1 L73.92 330.94 L71.95 330.94 L71.93 330.13 L75.13 329.34 L76.92 328.47 L76.91 327.84 M136.45 320.88 L141.75 318.98 L146.17 318.4 L150.29 318.07 L155.34 317.65 L160.13 317.54 L163.73 318.07 L165.45 318.86 L164.61 320.22 L164.21 321.91 L162.81 323.33 L161.93 324.8 L160.99 326.53 L158.97 327.76 L155.33 328.15 L153.13 329.57 L150.81 330.22 L149.2 331.43 L147.61 333.49 L146.39 334.74 L145.08 334.4 L143.65 333.9 L142.84 332.66 L142.39 331.43 L142.14 329.81 L142.36 328.62 L143.96 327.06 L143.2 326.22 L142.88 325.17 L143.16 323.7 L142.84 322.47 L141.21 322.12 L138.97 322.26 L137.24 321.77 L136.45 320.88 M134 332.08 L134.34 330.22 L136.7 329.18 L135.07 327.3 L133.7 326.22 L132.15 325.54 L130.21 324.72 L127.19 323.99 L123.88 324.58 L124.53 326.53 L126.62 326.83 L129.11 326.6 L130.57 328.39 L129.25 330.05 L126.57 330.94 L129.32 332.08 L131.47 332.74 L134 332.08 M106.67 325.92 L108.93 324.43 L111.33 324.28 L114.91 324.06 L116 325.17 L115.56 326.53 L113.26 327.45 L107.68 327.76 L105.98 326.83 L106.67 325.92 M103.37 325.32 L106.51 323.48 L109.53 323.48 L109.48 324.43 L105.58 325.62 L103.37 325.32 M131.81 321.91 L127.56 321.91 L127.12 320.88 L128.43 318.98 L133.41 318.12 L138.52 317.85 L144 318.12 L139.98 319.28 L135.73 320.55 L131.81 321.91 M130.51 323.33 L126.68 323.33 L124.16 323.12 L125.2 322.12 L129.61 321.98 L131.28 322.47 L130.51 323.33 M123.36 325.17 L120.53 325.17 L120.83 323.7 L123.73 323.55 L123.36 325.17 M119.18 324.8 L117.57 324.72 L117.92 323.84 L119.98 323.99 L119.18 324.8 M116.7 322.97 L112.89 322.97 L112.66 322.12 L115.96 321.84 L116.7 322.97 M136.76 345.63 L136.69 343.84 L135.84 342.07 L134.16 342.95 L132.54 344.73 L132.08 345.54 L134.43 345.54 L136 346.34 L136.76 345.63 M107.13 369 L108.44 368.09 L110.04 367.9 L111.56 368.36 L113.05 369.1 L114.55 369.74 L115.49 370.56 L113 370.84 L112.52 370.2 L111.06 369.19 L109.52 368.82 L107.92 369 L107.13 369 M115.15 372.22 L116.41 370.84 L118 370.84 L119.56 371.12 L119.94 372.03 L117.82 372.58 L116.64 372.4 L115.15 372.22 M170.06 356.07 L169.54 355.33 L168.65 354.97 L167.58 355.15 L167.71 353.6 L167.19 353.51 L167.79 351.5 L167.77 350.14 L167.49 349.68 L168.47 349.05 L171.38 349.32 L172.99 349.32 L173.44 346.97 L172.73 345.9 L171.1 345.27 L171.05 344.64 L173.24 344.55 L173.39 343.66 L174.44 343.84 L175.41 342.6 L176.59 342.16 L177.39 341.19 L177.72 340.49 L179.08 340.31 L180.09 340.05 L180.01 338.58 L179.73 337.29 L181.21 336.69 L181.29 337.71 L180.97 339.01 L181.64 339.88 L182.44 339.7 L183.81 339.88 L185.13 339.44 L186.45 339.18 L187.84 339.44 L188.53 338.58 L188.24 337.46 L189.84 337.11 L190.33 336.86 L190 336.09 L189.56 335.41 L191.14 335.16 L192.44 335.16 L193.64 334.74 L192.26 334.32 L191 334.4 L189.01 334.82 L187.93 334.07 L187.83 332.66 L188.58 331.59 L189.63 330.62 L189.86 330.22 L189.2 329.97 L187.68 329.97 L187.25 331.02 L186.45 331.84 L185.33 332.82 L185.28 333.9 L186.42 334.74 L186.5 335.33 L185.43 336.18 L185.23 337.29 L184.92 338.06 L183.9 338.58 L182.89 338.58 L182.62 337.71 L182.05 336.43 L181.59 335.58 L181.11 335.24 L180.48 335.58 L179.55 336.35 L178.56 336.35 L177.95 335.75 L177.51 334.32 L177.46 333.07 L178.68 332.25 L179.9 331.76 L180.77 331.02 L181.58 329.81 L182.39 328.86 L183.18 328.07 L183.98 327.45 L185.35 326.83 L186.45 326.53 L187.51 326.07 L189.2 325.92 L190.98 326.15 L192.22 326.45 L193.56 327.06 L195.43 327.45 L197.4 328.07 L198.86 328.86 L198.8 329.57 L197.33 329.73 L195.47 329.57 L194.47 329.26 L195.64 330.62 L197.25 331.51 L198.32 330.94 L199.27 331.02 L200.34 329.65 L200.3 327.92 L201.54 328.07 L203.98 328.23 L206.17 327.84 L208.38 327.53 L209.48 326.83 L211.73 327.22 L214.25 327.53 L212.93 326.3 L212.83 324.8 L213.31 324.28 L214.92 324.58 L215.65 325.54 L217.68 327.84 L218.95 327.53 L217.77 325.02 L219.35 324.87 L219.2 323.99 L221.71 323.7 L221.51 322.9 L223.62 322.33 L225.61 322.19 L227.42 321.91 L228.49 321.08 L230.69 321.56 L232.64 321.84 L234.7 322.19 L236.86 323.7 L239.79 324.06 L243.03 324.43 L244.79 324.06 L247.32 325.17 L249.19 326 L251.1 325.47 L253.14 324.87 L256.63 324.95 L259.95 325.69 L261.63 326.07 L266.23 326.07 L271.05 326.99 L272.91 326.68 L276.63 326.83 L279.94 327.45 M68.54 327.53 L68.88 328.47 L69.86 329.02 L71.1 329.42 L71.15 329.81 L69.46 330.38 L67.43 331.18 L66.37 330.62 L64.61 330.78 L63.92 330.62 M284.68 330.62 L284.88 331.18 L285.66 332.66 L284.65 333.32 L284.08 334.74 L281.01 334.49 L280.22 334.91 L281.34 336.43 L282.39 337.97 L283.04 339.88 L282.97 341.19 L283.23 342.51 L281.17 340.75 L277.53 337.29 L277.58 336.6 L278.12 335.33 L277.87 333.49 L275.77 333.32 L273.33 333.4 L273.12 335.5 L270.34 335.33 L267.09 335.33 L266.73 336.6 L267.03 339.44 L268.77 339.88 L271.41 341.19 L272.03 342.51 L273.53 344.73 L273.59 346.52 L273.02 348.96 L271.28 349.68 L270.35 350.32 L270.29 351.5 L269.76 352.87 L271.94 355.15 L272.61 356.8 L271.33 357.35 L270.57 357.35 L269.83 355.15 L268.48 354.51 L267.26 352.78 L264.83 351.96 L264.76 353.32 L264.98 351.96 L263.9 351.59 L263.01 352.78 L262.35 353.6 L263.78 354.79 L265.12 354.42 L266.73 355.15 L265.43 356.53 L265.19 357.44 L266.89 359.28 L268.52 360.84 L268.88 362.95 L268.09 365.52 L266.48 367.54 L263.94 368.73 L261.76 369.83 L261.47 370.47 L260.67 369.46 L260.1 369.37 L258.87 370.56 L258.28 371.85 L259.09 373.04 L261.19 374.88 L261.96 378.09 L260.24 379.47 L258.6 381.21 L258.67 379.92 L258.23 379.47 L256.96 378.73 L255.64 377.45 L254.37 376.71 L253.97 379.47 L255.14 382.49 L256.31 383.32 L257.67 384.97 L258.39 387.82 L257.83 387.91 L256.02 386.53 L255.13 384.05 L253.56 381.58 L253.53 379.92 L252.29 373.96 L250.53 374.6 L249.46 374.33 L249.35 371.67 L247.39 370.11 L246.79 368.64 L245.8 368.91 L244.27 369.28 L243 369.83 L241.75 371.21 L239.93 373.96 L238.43 374.88 L238.55 377.17 L238.4 379.65 L237.06 381.58 L236.67 381.76 L235.82 380.84 L235.04 378.55 L234.23 377.17 L232.95 374.42 L232.12 371.67 L231.92 369.83 L231.63 369.37 L229.94 369.83 L228.77 368.45 L228.27 367.54 L227.43 367.08 L226.5 365.88 L222.97 365.98 L219.79 365.61 L219.21 365.33 L218.28 364.14 L216.54 364.6 L214.47 363.59 L213.23 361.76 L211.88 361.57 L211.56 362.03 L212.11 363.41 L212.99 364.32 L213.53 364.97 L214.23 366.44 L215.23 367.08 L216.79 366.89 L218.18 365.24 L218.61 366.25 L219.82 367.35 L221.5 368.45 L220.64 370.29 L220.2 371.67 L218.12 373.5 L215.81 374.6 L213.5 376.07 L210.75 377.17 L209.16 377.45 L208.51 375.52 L208.27 373.96 L206.86 371.67 L205.14 369.37 L204.52 367.08 L202.98 365.24 L201.58 363.41 L201.39 362.03 L200.98 363.59 L199.99 362.95 L199.57 361.66 L199.23 360.47 L200.77 360.38 L201.14 358.82 L201.56 356.53 L201.52 355.61 L200.36 355.33 L198.92 355.98 L197.36 355.61 L195.61 355.43 L194.85 354.69 L194.06 352.87 L193.76 352.14 L194.71 351.96 L195.74 351.32 L194.97 351.05 L194.91 350.59 L195.19 348.78 L195.75 347.6 L196.38 346.52 L197.76 347.51 L198.61 348.33 L199.95 347.69 L200.67 347.69 L201.51 346.34 L202.39 346.08 L201.77 346.97 L201.43 347.87 L203.05 348.78 L204.91 350.14 L204.93 351.05 L202.42 351.5 L200.06 350.59 L197.59 351.32 L195.89 351.32 L195.17 351.5 L193.71 351.68 L192.08 351.68 L191.1 352.23 L192.31 354.05 L191.59 354.42 L191.31 355.61 L190.24 354.42 L189.6 353.05 L188.62 351.96 L188.67 350.77 L186.74 349.68 L185.15 347.87 L184.17 347.24 L183.18 347.6 L183.31 348.6 L184.58 350.14 L186.88 351.5 L188.05 352.23 L187.01 353.32 L186.74 353.78 L186.32 354.24 L186 353.96 L185.83 352.41 L183.91 351.23 L182.37 350.14 L181.58 348.78 L180.47 348.51 L179.76 348.96 L179.05 349.59 L177.58 349.23 L176.5 349.68 L176.66 350.68 L175.04 351.5 L174.08 352.87 L174.45 353.51 L173.92 353.96 L172.79 355.43 L170.9 355.43 L170.06 356.07 M208.4 348.33 L210.14 346.52 L212.22 346.25 L212.64 347.87 L211.71 348.51 L213.02 350.59 L213.52 351.5 L214.86 354.24 L214.92 354.88 L212.83 355.43 L211.19 354.69 L211.07 352.14 L209.63 350.59 L208.4 348.33 M199.57 361.66 L199.23 360.47 L197.45 360.38 L196.71 360.75 L193.57 360.1 L191.97 359.19 L190.06 359.46 L189.76 360.84 L188.61 361.11 L186.25 360.2 L184.27 358.91 L183.11 358.64 L182.09 357.9 L182.66 356.71 L182.23 355.43 L181.84 354.88 L180.72 355.24 L176.57 355.33 L173.54 356.53 L172.63 356.89 L170.21 356.16 L169.59 356.53 L169.1 357.9 L167.79 358.54 L166.74 360.38 L166.87 361.39 L165.18 363.22 L164.15 363.87 L162.94 365.24 L161.38 367.54 L160.84 369.83 L161.43 371.67 L161.13 374.42 L160.31 375.61 L160.91 377.63 L162.26 379.01 L163.61 380.38 L164.64 382.22 L166.24 383.59 L168.25 385.06 L170.27 384.42 L172.69 384.79 L175.11 383.69 L177.84 383.32 L179.14 385.15 L180.35 384.97 L181.56 385.43 L182.13 386.81 L181.97 388.18 L181.56 390.02 L183.17 392.31 L183.97 393.69 L184.76 396.44 L184.31 401.49 L183.7 404.7 L184.23 406.53 L185.66 410.11 L186.26 413.88 L187.14 415.34 L188.33 418 L188.36 420.3 L189.53 421.03 L191.49 420.3 L193.87 420.21 L195.37 419.56 L197.45 417.82 L199.6 415.25 L199.85 412.87 L202.25 411.03 L202.37 408.83 L201.82 407.27 L203.31 406.17 L205.38 404.52 L206.72 403.32 L206.81 399.19 L205.93 396.44 L205.87 395.06 L205.9 393.41 L206.73 391.58 L207.87 390.57 L209.41 388.64 L211.82 386.81 L213.4 384.7 L214.54 381.76 L215.42 379.47 L215.37 378.27 L213.63 378.73 L210.45 379.56 L209.12 378.55 L208.52 377.54 L207.51 376.25 L205.67 374.6 L204.83 372.31 L203.74 369.83 L203.45 368.91 L202.33 367.17 L201.16 364.97 L199.57 361.66 M213.84 400.11 L214.55 403.32 L213.71 405.16 L212.72 407.91 L211.22 412.04 L209.6 412.5 L208.73 410.66 L208.54 408.83 L209.45 406.99 L209.36 404.7 L211.26 403.6 L212.71 401.95 L213.84 400.11 M263.98 409.29 L263.63 412.96 L263.42 416.63 L262.87 419.84 L263.71 421.22 L265.98 420.3 L268.35 420.12 L271.18 418.74 L273.73 418.1 L275.47 418 L277.14 419.2 L277.72 421.03 L279.75 419.38 L278.95 421.67 L279.56 423.78 L280.39 424.33 L282.37 424.15 L283.83 424.88 L285.73 423.78 L287.38 423.23 L288.34 421.86 L289.98 420.12 L292.48 417.55 L293.87 415.25 L294.33 412.5 L293.27 410.66 L292.36 409.56 L291.98 407.73 L290.49 406.53 L290.41 403.78 L290.37 402.68 L289.21 401.95 L288.73 398.92 L287.74 401.03 L287.3 403.32 L286.42 405.07 L285.16 404.97 L283.66 403.6 L282.61 402.68 L283.75 400.29 L281.05 399.38 L279.01 399.65 L278.45 401.03 L277.79 402.86 L276.54 402.13 L275.12 401.95 L273.72 403.32 L271.59 405.16 L270.32 406.99 L266.95 408.09 L264.85 408.83 L263.98 409.29 M281.56 426.43 L284.11 426.61 L282.51 428.7 L281.16 429.06 L281.07 427.88 L281.56 426.43 M305.98 420.76 L306.54 422.13 L306.73 423.05 L308.57 423.69 L306.81 425.15 L305.27 426.24 L303.54 427.25 L303.38 426.97 L304.32 425.61 L304.11 425.06 L306.05 423.05 L305.98 420.76 M302.45 426.24 L302.81 427.34 L301.15 428.52 L300.13 429.24 L298.52 429.87 L297.05 431.14 L295.38 431.77 L294.03 431.23 L296.78 429.42 L299.1 428.52 L301.25 427.15 L302.45 426.24 M273.73 358.54 L275.38 360.38 L275.34 358.36 L276.49 358.36 L277.56 358.18 L278.61 357.44 L280.2 357.26 L281.14 356.34 L280.07 353.96 L280.2 352.87 L278.72 351.14 L278.02 351.68 L279.07 353.78 L277.67 355.15 L277.74 356.07 L275.3 356.53 L274.19 357.44 L273.73 358.54 M277.63 351.05 L278.17 350.14 L279.78 350.59 L280.62 349.41 L279.46 348.78 L276.64 347.51 L277.57 349.23 L277.06 350.14 L277.63 351.05 M276.41 346.97 L277.17 346.52 L275.17 344.29 L276.23 344.29 L273.39 341.89 L271.11 339.62 L272.48 341.63 L274.66 344.73 L276.41 346.97 M269.09 368 L269.29 365.98 L270.09 366.34 L269.74 368.91 L269.09 368 M260.6 371.48 L261.74 370.66 L262.37 371.12 L261.54 372.4 L260.6 371.48 M269.7 372.22 L271.43 372.12 L271.58 373.96 L271.4 375.34 L273.7 377.63 L271.15 376.44 L270.22 375.52 L270.39 373.96 L269.7 372.22 M272.54 382.68 L275.17 380.2 L276.13 382.22 L275.42 383.59 L274.17 382.95 L272.54 382.68 M251.1 383.96 L252.89 384.33 L254.98 386.81 L257.83 390.02 L259.81 392.04 L259.55 394.42 L258.5 394.42 L256.8 392.77 L255.41 390.48 L253.95 387.54 L251.1 383.96 M259.1 395.34 L259.95 394.61 L261.69 395.06 L263.55 394.97 L265.13 395.52 L266.45 396.26 L266.39 397.17 L263.21 396.62 L260.04 395.89 L259.1 395.34 M262.27 387.72 L262.76 390.02 L263.28 391.85 L266.64 392.77 L268.27 392.31 L267.92 390.02 L269.38 388.37 L270.22 384.51 L268.51 382.68 L267.4 384.51 L265.45 386.16 L263.87 387.45 L262.27 387.72 M270.61 394.15 L270.3 391.85 L270.76 389.1 L271.56 388.37 L274.78 387.82 L271.96 388 L271.56 390.02 L273.82 389.93 L272.35 390.75 L273.07 393.23 L271.85 393.5 L271.51 391.67 L271.25 394.15 L270.61 394.15 M280.02 390.29 L282.45 389.93 L283.6 392.04 L285.67 390.57 L288.06 391.49 L290.84 392.59 L291.96 394.15 L293.13 394.79 L293.4 396.44 L294.8 398.55 L292.42 398.28 L291.79 396.44 L290.21 396.07 L288.87 397.63 L287.68 397.45 L285.33 396.72 L285.11 394.15 L282.36 392.77 L280.79 391.67 L280.02 390.29 M273.92 398.46 L276.71 396.81 L275.21 397.54 L273.92 398.46 M238.52 380.2 L240.15 382.22 L239.72 383.41 L238.76 383.59 L238.52 381.76 L238.52 380.2 M170.31 343.4 L172.21 342.87 L175.27 342.34 L175.47 341.02 L174.5 340.4 L174.16 339.44 L173.29 338.58 L172.97 337.29 L173.11 336.77 L172.34 335.92 L171.03 335.92 L170.21 336.86 L170.56 337.97 L171 339.01 L172.28 339.1 L172.11 340.49 L171.14 340.93 L170.7 341.89 L172.22 342.07 L170.31 343.4 M170.16 341.45 L170.15 339.88 L170.52 339.18 L169.26 338.75 L167.51 339.7 L167.38 341.98 L168.76 341.98 L170.16 341.45 M160.36 331.43 L160.98 329.65 L164.64 329.42 L165.98 330.46 L163.09 331.84 L160.36 331.43 M179.96 320.55 L182.8 319.46 L187.84 319.58 L185.19 320.88 L182.2 321.56 L179.96 320.55 M203.92 325.54 L205.17 323.7 L206.95 322.26 L210.51 321.7 L209.08 322.97 L206.97 325.92 L203.92 325.54 M222.75 320.22 L223.62 318.98 L227.85 320.22 L226.15 320.88 L222.75 320.22 M248.75 322.97 L250.31 322.26 L255.21 322.62 L252 324.06 L248.75 322.97 M80.97 457.32 L86.59 457.52 L93.05 457.65 L92.62 456.64 L94.62 456.29 L98.56 455.44 L102.94 454.72 L108.15 454.5 L114.09 454.87 L118.8 454.14 L124.01 453.77 L129.78 453.99 L131.85 453.03 L133.22 450.75 L134.25 448.39 L136.93 446.36 L138.73 446.2 L138.24 447.18 L137.69 449.18 L138.34 451.52 L140.22 453.77 L141.69 455.23 L142.18 455.94 L148.5 457.52 L153.49 457.18 L156.15 457.32 L158.49 456.64 L160.81 455.58 L164.31 454.14 L167.46 452.66 L174.3 451.75 L180.1 451.52 L185.87 451.67 L191.8 451.14 L197.78 450.75 L201.16 449.58 L207.49 448.78 L213.1 449.58 L215.62 450.36 L216.07 451.52 L218.06 451.14 L222.05 449.58 L228.62 448.78 L234.98 448.39 L241.04 448.39 L246.49 449.02 L253.01 448.55 L258.52 449.02 L262.84 450.36 L267.11 451.52 L268.87 452.28 L270.53 453.03 L265.05 455.23 L259.85 457.32 L261.72 457.65 L267.63 457.32" fill="none" stroke="#505050" stroke-width="0.9" stroke-linejoin="round"/>
<path d="M69.89 451.52 L278.71 451.52 M48.19 434.8 L300.41 434.8 M34.81 416.63 L313.79 416.63 M29.67 398.28 L318.93 398.28 M29.67 379.92 L318.93 379.92 M34.81 361.57 L313.79 361.57 M48.19 343.4 L300.41 343.4 M69.89 326.68 L278.71 326.68 M122.75 463.1 L120.55 462.17 L117.98 460.86 L115.12 459.22 L112.08 457.32 L109.09 455.23 L106.37 453.03 L103.87 450.75 L101.49 448.39 L99.18 445.95 L96.94 443.46 L94.79 440.91 L92.75 438.32 L90.83 435.69 L89.09 433.02 L87.49 430.33 L85.97 427.61 L84.58 424.88 L83.36 422.13 L82.27 419.38 L81.31 416.63 L80.5 413.88 L79.85 411.12 L79.32 408.37 L78.84 405.62 L78.4 402.86 L78.06 400.11 L77.8 397.36 L77.62 394.61 L77.5 391.85 L77.43 389.1 L77.5 386.35 L77.62 383.59 L77.8 380.84 L78.06 378.09 L78.4 375.34 L78.84 372.58 L79.32 369.83 L79.85 367.08 L80.5 364.32 L81.31 361.57 L82.27 358.82 L83.36 356.07 L84.58 353.32 L85.97 350.59 L87.49 347.87 L89.09 345.18 L90.83 342.51 L92.75 339.88 L94.79 337.29 L96.94 334.74 L99.18 332.25 L101.49 329.81 L103.87 327.45 L106.37 325.17 L109.09 322.97 L112.08 320.88 L115.12 318.98 L117.98 317.34 L120.55 316.03 L122.75 315.1 M148.52 463.1 L147.43 462.17 L146.14 460.86 L144.71 459.22 L143.19 457.32 L141.69 455.23 L140.34 453.03 L139.09 450.75 L137.89 448.39 L136.74 445.95 L135.62 443.46 L134.55 440.91 L133.52 438.32 L132.57 435.69 L131.69 433.02 L130.89 430.33 L130.14 427.61 L129.44 424.88 L128.83 422.13 L128.28 419.38 L127.8 416.63 L127.4 413.88 L127.07 411.12 L126.81 408.37 L126.57 405.62 L126.35 402.86 L126.18 400.11 L126.05 397.36 L125.96 394.61 L125.9 391.85 L125.87 389.1 L125.9 386.35 L125.96 383.59 L126.05 380.84 L126.18 378.09 L126.35 375.34 L126.57 372.58 L126.81 369.83 L127.07 367.08 L127.4 364.32 L127.8 361.57 L128.28 358.82 L128.83 356.07 L129.44 353.32 L130.14 350.59 L130.89 347.87 L131.69 345.18 L132.57 342.51 L133.52 339.88 L134.55 337.29 L135.62 334.74 L136.74 332.25 L137.89 329.81 L139.09 327.45 L140.34 325.17 L141.69 322.97 L143.19 320.88 L144.71 318.98 L146.14 317.34 L147.43 316.03 L148.52 315.1 M174.3 463.1 L174.3 462.17 L174.3 460.86 L174.3 459.22 L174.3 457.32 L174.3 455.23 L174.3 453.03 L174.3 450.75 L174.3 448.39 L174.3 445.95 L174.3 443.46 L174.3 440.91 L174.3 438.32 L174.3 435.69 L174.3 433.02 L174.3 430.33 L174.3 427.61 L174.3 424.88 L174.3 422.13 L174.3 419.38 L174.3 416.63 L174.3 413.88 L174.3 411.12 L174.3 408.37 L174.3 405.62 L174.3 402.86 L174.3 400.11 L174.3 397.36 L174.3 394.61 L174.3 391.85 L174.3 389.1 L174.3 386.35 L174.3 383.59 L174.3 380.84 L174.3 378.09 L174.3 375.34 L174.3 372.58 L174.3 369.83 L174.3 367.08 L174.3 364.32 L174.3 361.57 L174.3 358.82 L174.3 356.07 L174.3 353.32 L174.3 350.59 L174.3 347.87 L174.3 345.18 L174.3 342.51 L174.3 339.88 L174.3 337.29 L174.3 334.74 L174.3 332.25 L174.3 329.81 L174.3 327.45 L174.3 325.17 L174.3 322.97 L174.3 320.88 L174.3 318.98 L174.3 317.34 L174.3 316.03 L174.3 315.1 M200.08 463.1 L201.17 462.17 L202.46 460.86 L203.89 459.22 L205.41 457.32 L206.91 455.23 L208.26 453.03 L209.51 450.75 L210.71 448.39 L211.86 445.95 L212.98 443.46 L214.05 440.91 L215.08 438.32 L216.03 435.69 L216.91 433.02 L217.71 430.33 L218.46 427.61 L219.16 424.88 L219.77 422.13 L220.32 419.38 L220.8 416.63 L221.2 413.88 L221.53 411.12 L221.79 408.37 L222.03 405.62 L222.25 402.86 L222.42 400.11 L222.55 397.36 L222.64 394.61 L222.7 391.85 L222.73 389.1 L222.7 386.35 L222.64 383.59 L222.55 380.84 L222.42 378.09 L222.25 375.34 L222.03 372.58 L221.79 369.83 L221.53 367.08 L221.2 364.32 L220.8 361.57 L220.32 358.82 L219.77 356.07 L219.16 353.32 L218.46 350.59 L217.71 347.87 L216.91 345.18 L216.03 342.51 L215.08 339.88 L214.05 337.29 L212.98 334.74 L211.86 332.25 L210.71 329.81 L209.51 327.45 L208.26 325.17 L206.91 322.97 L205.41 320.88 L203.89 318.98 L202.46 317.34 L201.17 316.03 L200.08 315.1 M225.85 463.1 L228.05 462.17 L230.62 460.86 L233.48 459.22 L236.52 457.32 L239.51 455.23 L242.23 453.03 L244.73 450.75 L247.11 448.39 L249.42 445.95 L251.66 443.46 L253.81 440.91 L255.85 438.32 L257.77 435.69 L259.51 433.02 L261.11 430.33 L262.63 427.61 L264.02 424.88 L265.24 422.13 L266.33 419.38 L267.29 416.63 L268.1 413.88 L268.75 411.12 L269.28 408.37 L269.76 405.62 L270.2 402.86 L270.54 400.11 L270.8 397.36 L270.98 394.61 L271.1 391.85 L271.17 389.1 L271.1 386.35 L270.98 383.59 L270.8 380.84 L270.54 378.09 L270.2 375.34 L269.76 372.58 L269.28 369.83 L268.75 367.08 L268.1 364.32 L267.29 361.57 L266.33 358.82 L265.24 356.07 L264.02 353.32 L262.63 350.59 L261.11 347.87 L259.51 345.18 L257.77 342.51 L255.85 339.88 L253.81 337.29 L251.66 334.74 L249.42 332.25 L247.11 329.81 L244.73 327.45 L242.23 325.17 L239.51 322.97 L236.52 320.88 L233.48 318.98 L230.62 317.34 L228.05 316.03 L225.85 315.1" fill="none" stroke="#000" stroke-width="1.3"/>
<path d="M251.63 463.1 L253.75 462.52 L256.15 461.77 L258.78 460.86 L261.61 459.8 L264.57 458.62 L267.63 457.32 L270.66 455.94 L273.52 454.5 L276.19 453.03 L278.71 451.52 L281.15 449.97 L283.52 448.39 L285.84 446.77 L288.11 445.13 L290.34 443.46 L292.5 441.77 L294.6 440.05 L296.63 438.32 L298.57 436.57 L300.41 434.8 L302.12 433.02 L303.73 431.23 L305.29 429.42 L306.79 427.61 L308.21 425.79 L309.51 423.96 L310.71 422.13 L311.82 420.3 L312.85 418.46 L313.79 416.63 L314.62 414.79 L315.35 412.96 L315.98 411.12 L316.52 409.29 L317.01 407.45 L317.49 405.62 L317.94 403.78 L318.33 401.95 L318.66 400.11 L318.93 398.28 L319.15 396.44 L319.33 394.61 L319.46 392.77 L319.55 390.94 L319.6 389.1 L319.55 387.26 L319.46 385.43 L319.33 383.59 L319.15 381.76 L318.93 379.92 L318.66 378.09 L318.33 376.25 L317.94 374.42 L317.49 372.58 L317.01 370.75 L316.52 368.91 L315.98 367.08 L315.35 365.24 L314.62 363.41 L313.79 361.57 L312.85 359.74 L311.82 357.9 L310.71 356.07 L309.51 354.24 L308.21 352.41 L306.79 350.59 L305.29 348.78 L303.73 346.97 L302.12 345.18 L300.41 343.4 L298.57 341.63 L296.63 339.88 L294.6 338.15 L292.5 336.43 L290.34 334.74 L288.11 333.07 L285.84 331.43 L283.52 329.81 L281.15 328.23 L278.71 326.68 L276.19 325.17 L273.52 323.7 L270.66 322.26 L267.63 320.88 L264.57 319.58 L261.61 318.4 L258.78 317.34 L256.15 316.43 L253.75 315.68 L251.63 315.1 L96.97 315.1 L94.85 315.68 L92.45 316.43 L89.82 317.34 L86.99 318.4 L84.03 319.58 L80.97 320.88 L77.94 322.26 L75.08 323.7 L72.41 325.17 L69.89 326.68 L67.45 328.23 L65.08 329.81 L62.76 331.43 L60.49 333.07 L58.26 334.74 L56.1 336.43 L54 338.15 L51.97 339.88 L50.03 341.63 L48.19 343.4 L46.48 345.18 L44.87 346.97 L43.31 348.78 L41.81 350.59 L40.39 352.41 L39.09 354.24 L37.89 356.07 L36.78 357.9 L35.75 359.74 L34.81 361.57 L33.98 363.41 L33.25 365.24 L32.62 367.08 L32.08 368.91 L31.59 370.75 L31.11 372.58 L30.66 374.42 L30.27 376.25 L29.94 378.09 L29.67 379.92 L29.45 381.76 L29.27 383.59 L29.14 385.43 L29.05 387.26 L29 389.1 L29.05 390.94 L29.14 392.77 L29.27 394.61 L29.45 396.44 L29.67 398.28 L29.94 400.11 L30.27 401.95 L30.66 403.78 L31.11 405.62 L31.59 407.45 L32.08 409.29 L32.62 411.12 L33.25 412.96 L33.98 414.79 L34.81 416.63 L35.75 418.46 L36.78 420.3 L37.89 422.13 L39.09 423.96 L40.39 425.79 L41.81 427.61 L43.31 429.42 L44.87 431.23 L46.48 433.02 L48.19 434.8 L50.03 436.57 L51.97 438.32 L54 440.05 L56.1 441.77 L58.26 443.46 L60.49 445.13 L62.76 446.77 L65.08 448.39 L67.45 449.97 L69.89 451.52 L72.41 453.03 L75.08 454.5 L77.94 455.94 L80.97 457.32 L84.03 458.62 L86.99 459.8 L89.82 460.86 L92.45 461.77 L94.85 462.52 L96.97 463.1Z" fill="none" stroke="#000" stroke-width="1.7" stroke-linejoin="round"/>
<path d="M174.3 343.4 L258.37 343.4 L258.37 343.4 L257.77 342.51 L257.15 341.63 L256.51 340.75 L255.85 339.88 L255.18 339.01 L254.5 338.15 L253.81 337.29 L253.1 336.43 L252.38 335.58 L251.66 334.74 L250.92 333.9 L250.18 333.07 L249.42 332.25 L248.66 331.43 L247.89 330.62 L247.11 329.81 L246.33 329.02 L245.53 328.23 L244.73 327.45 L243.91 326.68 L243.91 326.68 L174.3 326.68 L174.3 326.68 L174.3 327.45 L174.3 328.23 L174.3 329.02 L174.3 329.81 L174.3 330.62 L174.3 331.43 L174.3 332.25 L174.3 333.07 L174.3 333.9 L174.3 334.74 L174.3 335.58 L174.3 336.43 L174.3 337.29 L174.3 338.15 L174.3 339.01 L174.3 339.88 L174.3 340.75 L174.3 341.63 L174.3 342.51 L174.3 343.4Z" fill="none" stroke="#d62728" stroke-width="2.8" stroke-linejoin="miter"/>
<text x="95.13" y="322.2" font-size="8.6" fill="#2a2a2a" stroke="#2a2a2a" stroke-width="0.18" text-anchor="middle">52</text>
<text x="127.91" y="322.2" font-size="8.6" fill="#2a2a2a" stroke="#2a2a2a" stroke-width="0.18" text-anchor="middle">53</text>
<text x="159.63" y="322.2" font-size="8.6" fill="#2a2a2a" stroke="#2a2a2a" stroke-width="0.18" text-anchor="middle">54</text>
<text x="192.88" y="322.2" font-size="8.6" fill="#fff" stroke="#fff" stroke-width="0.18" text-anchor="middle">49</text>
<text x="225.58" y="322.2" font-size="8.6" fill="#2a2a2a" stroke="#2a2a2a" stroke-width="0.18" text-anchor="middle">50</text>
<text x="258.53" y="322.2" font-size="8.6" fill="#2a2a2a" stroke="#2a2a2a" stroke-width="0.18" text-anchor="middle">51</text>
<text x="74.38" y="338.1" font-size="8.6" fill="#2a2a2a" stroke="#2a2a2a" stroke-width="0.18" text-anchor="middle">46</text>
<text x="115.31" y="338.1" font-size="8.6" fill="#2a2a2a" stroke="#2a2a2a" stroke-width="0.18" text-anchor="middle">47</text>
<text x="155.98" y="338.1" font-size="8.6" fill="#fff" stroke="#fff" stroke-width="0.18" text-anchor="middle">48</text>
<text x="196.58" y="338.1" font-size="8.6" fill="#2a2a2a" stroke="#2a2a2a" stroke-width="0.18" text-anchor="middle">43</text>
<text x="236.61" y="338.1" font-size="8.6" fill="#2a2a2a" stroke="#2a2a2a" stroke-width="0.18" text-anchor="middle">44</text>
<text x="277.16" y="338.1" font-size="8.6" fill="#2a2a2a" stroke="#2a2a2a" stroke-width="0.18" text-anchor="middle">45</text>
<text x="61.16" y="355.9" font-size="8.6" fill="#2a2a2a" stroke="#2a2a2a" stroke-width="0.18" text-anchor="middle">40</text>
<text x="106.61" y="355.9" font-size="8.6" fill="#2a2a2a" stroke="#2a2a2a" stroke-width="0.18" text-anchor="middle">41</text>
<text x="152.81" y="355.9" font-size="8.6" fill="#2a2a2a" stroke="#2a2a2a" stroke-width="0.18" text-anchor="middle">42</text>
<text x="196.53" y="355.9" font-size="8.6" fill="#fff" stroke="#fff" stroke-width="0.18" text-anchor="middle">37</text>
<text x="244.31" y="355.9" font-size="8.6" fill="#2a2a2a" stroke="#2a2a2a" stroke-width="0.18" text-anchor="middle">38</text>
<text x="290.21" y="355.9" font-size="8.6" fill="#2a2a2a" stroke="#2a2a2a" stroke-width="0.18" text-anchor="middle">39</text>
<text x="55.63" y="373.8" font-size="8.6" fill="#2a2a2a" stroke="#2a2a2a" stroke-width="0.18" text-anchor="middle">34</text>
<text x="103.38" y="373.8" font-size="8.6" fill="#fff" stroke="#fff" stroke-width="0.18" text-anchor="middle">35</text>
<text x="151.31" y="373.8" font-size="8.6" fill="#2a2a2a" stroke="#2a2a2a" stroke-width="0.18" text-anchor="middle">36</text>
<text x="199.43" y="373.8" font-size="8.6" fill="#2a2a2a" stroke="#2a2a2a" stroke-width="0.18" text-anchor="middle">31</text>
<text x="247.53" y="373.8" font-size="8.6" fill="#2a2a2a" stroke="#2a2a2a" stroke-width="0.18" text-anchor="middle">32</text>
<text x="295.71" y="373.8" font-size="8.6" fill="#2a2a2a" stroke="#2a2a2a" stroke-width="0.18" text-anchor="middle">33</text>
<text x="54.16" y="392.6" font-size="8.6" fill="#2a2a2a" stroke="#2a2a2a" stroke-width="0.18" text-anchor="middle">28</text>
<text x="102.56" y="392.6" font-size="8.6" fill="#2a2a2a" stroke="#2a2a2a" stroke-width="0.18" text-anchor="middle">29</text>
<text x="151.18" y="392.6" font-size="8.6" fill="#2a2a2a" stroke="#2a2a2a" stroke-width="0.18" text-anchor="middle">30</text>
<text x="199.33" y="392.6" font-size="8.6" fill="#2a2a2a" stroke="#2a2a2a" stroke-width="0.18" text-anchor="middle">25</text>
<text x="248.16" y="392.6" font-size="8.6" fill="#2a2a2a" stroke="#2a2a2a" stroke-width="0.18" text-anchor="middle">26</text>
<text x="296.78" y="392.6" font-size="8.6" fill="#2a2a2a" stroke="#2a2a2a" stroke-width="0.18" text-anchor="middle">27</text>
<text x="57.38" y="410.8" font-size="8.6" fill="#2a2a2a" stroke="#2a2a2a" stroke-width="0.18" text-anchor="middle">22</text>
<text x="104.46" y="410.8" font-size="8.6" fill="#2a2a2a" stroke="#2a2a2a" stroke-width="0.18" text-anchor="middle">23</text>
<text x="151.48" y="410.8" font-size="8.6" fill="#2a2a2a" stroke="#2a2a2a" stroke-width="0.18" text-anchor="middle">24</text>
<text x="199.26" y="410.8" font-size="8.6" fill="#2a2a2a" stroke="#2a2a2a" stroke-width="0.18" text-anchor="middle">19</text>
<text x="246.33" y="410.8" font-size="8.6" fill="#2a2a2a" stroke="#2a2a2a" stroke-width="0.18" text-anchor="middle">20</text>
<text x="293.48" y="410.8" font-size="8.6" fill="#2a2a2a" stroke="#2a2a2a" stroke-width="0.18" text-anchor="middle">21</text>
<text x="66.46" y="428.8" font-size="8.6" fill="#2a2a2a" stroke="#2a2a2a" stroke-width="0.18" text-anchor="middle">16</text>
<text x="110.48" y="428.8" font-size="8.6" fill="#2a2a2a" stroke="#2a2a2a" stroke-width="0.18" text-anchor="middle">17</text>
<text x="153.56" y="428.8" font-size="8.6" fill="#2a2a2a" stroke="#2a2a2a" stroke-width="0.18" text-anchor="middle">18</text>
<text x="197.66" y="428.8" font-size="8.6" fill="#2a2a2a" stroke="#2a2a2a" stroke-width="0.18" text-anchor="middle">13</text>
<text x="241.18" y="428.8" font-size="8.6" fill="#2a2a2a" stroke="#2a2a2a" stroke-width="0.18" text-anchor="middle">14</text>
<text x="284.63" y="428.8" font-size="8.6" fill="#2a2a2a" stroke="#2a2a2a" stroke-width="0.18" text-anchor="middle">15</text>
<text x="83.83" y="446.3" font-size="8.6" fill="#2a2a2a" stroke="#2a2a2a" stroke-width="0.18" text-anchor="middle">10</text>
<text x="120.89" y="446.3" font-size="8.6" fill="#2a2a2a" stroke="#2a2a2a" stroke-width="0.18" text-anchor="middle">11</text>
<text x="157.58" y="446.3" font-size="8.6" fill="#2a2a2a" stroke="#2a2a2a" stroke-width="0.18" text-anchor="middle">12</text>
<text x="192.09" y="446.3" font-size="8.6" fill="#2a2a2a" stroke="#2a2a2a" stroke-width="0.18" text-anchor="middle">7</text>
<text x="228.92" y="446.3" font-size="8.6" fill="#2a2a2a" stroke="#2a2a2a" stroke-width="0.18" text-anchor="middle">8</text>
<text x="266.19" y="446.3" font-size="8.6" fill="#2a2a2a" stroke="#2a2a2a" stroke-width="0.18" text-anchor="middle">9</text>
<text x="104.72" y="460.2" font-size="8.6" fill="#2a2a2a" stroke="#2a2a2a" stroke-width="0.18" text-anchor="middle">4</text>
<text x="132.69" y="460.2" font-size="8.6" fill="#2a2a2a" stroke="#2a2a2a" stroke-width="0.18" text-anchor="middle">5</text>
<text x="160.77" y="460.2" font-size="8.6" fill="#2a2a2a" stroke="#2a2a2a" stroke-width="0.18" text-anchor="middle">6</text>
<text x="188.29" y="460.2" font-size="8.6" fill="#2a2a2a" stroke="#2a2a2a" stroke-width="0.18" text-anchor="middle">1</text>
<text x="216.39" y="460.2" font-size="8.6" fill="#2a2a2a" stroke="#2a2a2a" stroke-width="0.18" text-anchor="middle">2</text>
<text x="244.32" y="460.2" font-size="8.6" fill="#2a2a2a" stroke="#2a2a2a" stroke-width="0.18" text-anchor="middle">3</text>
</g>
<text transform="translate(74.3,308.5) scale(0.9955,1)" font-size="10.4" fill="#111" stroke="#111" stroke-width="0.18">Sources of precip over Eurasia [1981-2022]</text>
<text transform="translate(39.16,329.7) scale(0.9886,1)" font-size="10.4" fill="#111" stroke="#111" stroke-width="0.18">70°N</text>
<text transform="translate(18.6,347) scale(0.9909,1)" font-size="10.4" fill="#111" stroke="#111" stroke-width="0.18">50°N</text>
<text transform="translate(5,364.7) scale(0.9909,1)" font-size="10.4" fill="#111" stroke="#111" stroke-width="0.18">30°N</text>
<text transform="translate(-0.2,383.1) scale(0.9954,1)" font-size="10.4" fill="#111" stroke="#111" stroke-width="0.18">10°N</text>
<text transform="translate(0.72,401.1) scale(0.9766,1)" font-size="10.4" fill="#111" stroke="#111" stroke-width="0.18">10°S</text>
<text transform="translate(6.01,419.6) scale(0.9725,1)" font-size="10.4" fill="#111" stroke="#111" stroke-width="0.18">30°S</text>
<text transform="translate(19.21,437.8) scale(0.9817,1)" font-size="10.4" fill="#111" stroke="#111" stroke-width="0.18">50°S</text>
<text transform="translate(40.27,454.5) scale(0.9561,1)" font-size="10.4" fill="#111" stroke="#111" stroke-width="0.18">70°S</text>
<text transform="translate(287.87,329.7) scale(0.9565,1)" font-size="10.4" fill="#111" stroke="#111" stroke-width="0.18">70°N</text>
<text transform="translate(286.87,454.5) scale(0.9654,1)" font-size="10.4" fill="#111" stroke="#111" stroke-width="0.18">70°S</text>
<text transform="translate(79.12,476.6) scale(0.9770,1)" font-size="10.4" fill="#111" stroke="#111" stroke-width="0.18">180°W</text>
<text transform="translate(135.92,476.6) scale(0.9621,1)" font-size="10.4" fill="#111" stroke="#111" stroke-width="0.18">60°W</text>
<text transform="translate(169.19,476.6) scale(1.0168,1)" font-size="10.4" fill="#111" stroke="#111" stroke-width="0.18">0°</text>
<text transform="translate(188.91,476.6) scale(0.9839,1)" font-size="10.4" fill="#111" stroke="#111" stroke-width="0.18">60°E</text>
<text transform="translate(211.19,476.6) scale(1.0184,1)" font-size="10.4" fill="#111" stroke="#111" stroke-width="0.18">120°E</text>
<text transform="translate(239.41,476.6) scale(0.9816,1)" font-size="10.4" fill="#111" stroke="#111" stroke-width="0.18">180°E</text>
<rect x="28.1" y="495.2" width="14.55" height="14.6" fill="#1f2d62"/>
<rect x="42.65" y="495.2" width="14.55" height="14.6" fill="#2b4b8c"/>
<rect x="57.2" y="495.2" width="14.55" height="14.6" fill="#3c6ab2"/>
<rect x="71.75" y="495.2" width="14.55" height="14.6" fill="#5497d0"/>
<rect x="86.3" y="495.2" width="14.55" height="14.6" fill="#78bde2"/>
<rect x="100.85" y="495.2" width="14.55" height="14.6" fill="#9bd9f0"/>
<rect x="115.4" y="495.2" width="14.55" height="14.6" fill="#b7e8f4"/>
<rect x="129.95" y="495.2" width="14.55" height="14.6" fill="#daf3f8"/>
<rect x="144.5" y="495.2" width="14.55" height="14.6" fill="#eef7fa"/>
<rect x="159.05" y="495.2" width="14.55" height="14.6" fill="#ffffff"/>
<rect x="173.6" y="495.2" width="14.55" height="14.6" fill="#ffffff"/>
<rect x="188.15" y="495.2" width="14.55" height="14.6" fill="#f7f9e0"/>
<rect x="202.7" y="495.2" width="14.55" height="14.6" fill="#f1efa2"/>
<rect x="217.25" y="495.2" width="14.55" height="14.6" fill="#efcb62"/>
<rect x="231.8" y="495.2" width="14.55" height="14.6" fill="#eca840"/>
<rect x="246.35" y="495.2" width="14.55" height="14.6" fill="#ed8534"/>
<rect x="260.9" y="495.2" width="14.55" height="14.6" fill="#ea5a2c"/>
<rect x="275.45" y="495.2" width="14.55" height="14.6" fill="#e13431"/>
<rect x="290" y="495.2" width="14.55" height="14.6" fill="#c4232b"/>
<rect x="304.55" y="495.2" width="14.55" height="14.6" fill="#981c22"/>
<path d="M42.65 495.2 V509.8 M57.2 495.2 V509.8 M71.75 495.2 V509.8 M86.3 495.2 V509.8 M100.85 495.2 V509.8 M115.4 495.2 V509.8 M129.95 495.2 V509.8 M144.5 495.2 V509.8 M159.05 495.2 V509.8 M173.6 495.2 V509.8 M188.15 495.2 V509.8 M202.7 495.2 V509.8 M217.25 495.2 V509.8 M231.8 495.2 V509.8 M246.35 495.2 V509.8 M260.9 495.2 V509.8 M275.45 495.2 V509.8 M290 495.2 V509.8 M304.55 495.2 V509.8" stroke="#1a1a1a" stroke-width="1.2" fill="none"/>
<rect x="28.1" y="495.2" width="291" height="14.6" fill="none" stroke="#222" stroke-width="1.1"/>
<text transform="translate(17.46,521.8) scale(1.0797,1)" font-size="10.3" fill="#111" stroke="#111" stroke-width="0.18">−2.0</text>
<text transform="translate(46.56,521.8) scale(1.0825,1)" font-size="10.3" fill="#111" stroke="#111" stroke-width="0.18">−1.6</text>
<text transform="translate(75.66,521.8) scale(1.0881,1)" font-size="10.3" fill="#111" stroke="#111" stroke-width="0.18">−1.2</text>
<text transform="translate(104.76,521.8) scale(1.0825,1)" font-size="10.3" fill="#111" stroke="#111" stroke-width="0.18">−0.8</text>
<text transform="translate(133.86,521.8) scale(1.0742,1)" font-size="10.3" fill="#111" stroke="#111" stroke-width="0.18">−0.4</text>
<text transform="translate(166.69,521.8) scale(1.0185,1)" font-size="10.3" fill="#111" stroke="#111" stroke-width="0.18">0.0</text>
<text transform="translate(195.8,521.8) scale(1.0110,1)" font-size="10.3" fill="#111" stroke="#111" stroke-width="0.18">0.4</text>
<text transform="translate(224.89,521.8) scale(1.0222,1)" font-size="10.3" fill="#111" stroke="#111" stroke-width="0.18">0.8</text>
<text transform="translate(253.55,521.8) scale(1.0615,1)" font-size="10.3" fill="#111" stroke="#111" stroke-width="0.18">1.2</text>
<text transform="translate(282.66,521.8) scale(1.0534,1)" font-size="10.3" fill="#111" stroke="#111" stroke-width="0.18">1.6</text>
<text transform="translate(312.09,521.8) scale(1.0260,1)" font-size="10.3" fill="#111" stroke="#111" stroke-width="0.18">2.0</text>
<text transform="translate(53.55,536.8) scale(1.0372,1)" font-size="10.2" fill="#111" stroke="#111" stroke-width="0.18">Winter-Spring precipitation trend [10<tspan font-size="7.14" dy="-3.88">−3</tspan><tspan dy="3.88"> Sv decade</tspan><tspan font-size="7.14" dy="-3.88">−1</tspan><tspan dy="3.88">]</tspan></text>
<text transform="translate(345.81,17.6) scale(1.1913,1)" font-size="22.8" font-weight="bold" fill="#000">b</text>
<text transform="translate(476.39,24.8) scale(1.1179,1)" font-size="10.9" fill="#111" stroke="#111" stroke-width="0.18">Region 47: N. America</text>
<rect x="396.46" y="108.55" width="16.63" height="29.05" fill="#4a90e2"/>
<rect x="413.09" y="53.05" width="16.63" height="84.55" fill="#d72b63"/>
<rect x="438.03" y="136.03" width="16.63" height="1.57" fill="#4a90e2"/>
<rect x="454.66" y="103.83" width="16.63" height="33.77" fill="#d72b63"/>
<rect x="479.6" y="137.6" width="16.63" height="2.88" fill="#4a90e2"/>
<rect x="496.23" y="134.46" width="16.63" height="3.14" fill="#d72b63"/>
<rect x="537.8" y="115.35" width="16.63" height="22.25" fill="#d72b63"/>
<rect x="562.74" y="133.67" width="16.63" height="3.93" fill="#4a90e2"/>
<rect x="579.37" y="128.96" width="16.63" height="8.64" fill="#d72b63"/>
<rect x="620.94" y="126.34" width="16.63" height="11.26" fill="#d72b63"/>
<rect x="645.89" y="137.6" width="16.63" height="0.79" fill="#4a90e2"/>
<rect x="662.51" y="135.77" width="16.63" height="1.83" fill="#d72b63"/>
<path d="M433.87 33.7 V247.53" stroke="#666" stroke-width="1.3" stroke-dasharray="2.8 1.3" fill="none"/>
<path d="M600.16 33.7 V247.53" stroke="#666" stroke-width="1.3" stroke-dasharray="2.8 1.3" fill="none"/>
<path d="M392.3 137.6 H683.3" stroke="#000" stroke-width="1.1" fill="none"/>
<path d="M392.1 32.6 V247.84 H683.3" stroke="#000" stroke-width="1.5" fill="none"/>
<text transform="translate(364.37,246) scale(1.0567,1)" font-size="10.4" fill="#111" stroke="#111" stroke-width="0.18">−20</text>
<text transform="translate(364.37,219.82) scale(1.0599,1)" font-size="10.4" fill="#111" stroke="#111" stroke-width="0.18">−15</text>
<text transform="translate(364.37,193.65) scale(1.0567,1)" font-size="10.4" fill="#111" stroke="#111" stroke-width="0.18">−10</text>
<text transform="translate(370.15,167.47) scale(1.0917,1)" font-size="10.4" fill="#111" stroke="#111" stroke-width="0.18">−5</text>
<text transform="translate(377.25,141.3) scale(0.9907,1)" font-size="10.4" fill="#111" stroke="#111" stroke-width="0.18">0</text>
<text transform="translate(377.3,115.12) scale(0.9907,1)" font-size="10.4" fill="#111" stroke="#111" stroke-width="0.18">5</text>
<text transform="translate(371.5,88.95) scale(0.9907,1)" font-size="10.4" fill="#111" stroke="#111" stroke-width="0.18">10</text>
<text transform="translate(371.55,62.77) scale(0.9907,1)" font-size="10.4" fill="#111" stroke="#111" stroke-width="0.18">15</text>
<text transform="translate(371.5,36.6) scale(0.9907,1)" font-size="10.4" fill="#111" stroke="#111" stroke-width="0.18">20</text>
<path d="M388.4 242.3 H392.3 M388.4 216.12 H392.3 M388.4 189.95 H392.3 M388.4 163.78 H392.3 M388.4 137.6 H392.3 M388.4 111.42 H392.3 M388.4 85.25 H392.3 M388.4 59.07 H392.3 M388.4 32.9 H392.3 M413.09 247.53 V252.03 M454.66 247.53 V252.03 M496.23 247.53 V252.03 M537.8 247.53 V252.03 M579.37 247.53 V252.03 M620.94 247.53 V252.03 M662.51 247.53 V252.03" stroke="#000" stroke-width="1.25" fill="none"/>
<text transform="translate(405.96,264.2) scale(0.8750,1)" font-size="10.3" fill="#111" stroke="#111" stroke-width="0.18">P<tspan font-size="7.21" dy="1.13">NA</tspan></text>
<text transform="translate(447.04,264.2) scale(0.9000,1)" font-size="10.3" fill="#111" stroke="#111" stroke-width="0.18">E<tspan font-size="7.21" dy="1.13">NA</tspan></text>
<text transform="translate(485.95,264.2) scale(0.8804,1)" font-size="10.3" fill="#111" stroke="#111" stroke-width="0.18">E<tspan font-size="7.21" dy="1.13">SOIL</tspan></text>
<text transform="translate(525.96,264.2) scale(0.8745,1)" font-size="10.3" fill="#111" stroke="#111" stroke-width="0.18">E<tspan font-size="7.21" dy="1.13">VEGT</tspan></text>
<text transform="translate(567.66,264.2) scale(0.8660,1)" font-size="10.3" fill="#111" stroke="#111" stroke-width="0.18">E<tspan font-size="7.21" dy="1.13">VEGE</tspan></text>
<text transform="translate(608.49,264.2) scale(0.9580,1)" font-size="10.3" fill="#111" stroke="#111" stroke-width="0.18">P<tspan font-size="7.21" dy="1.13">Arctic</tspan></text>
<text transform="translate(643.67,264.2) scale(0.9717,1)" font-size="10.3" fill="#111" stroke="#111" stroke-width="0.18">P<tspan font-size="7.21" dy="1.13">NonArctic</tspan></text>
<rect x="583" y="36.6" width="98" height="30" fill="#fff"/>
<rect x="587" y="41.8" width="18.7" height="6.2" fill="#4a90e2"/>
<rect x="587" y="55.3" width="18.7" height="6.2" fill="#d72b63"/>
<text transform="translate(613.25,47.9) scale(1.0500,1)" font-size="9.6" fill="#111" stroke="#111" stroke-width="0.18">Winter-Spring</text>
<text transform="translate(612.82,61.7) scale(1.0616,1)" font-size="9.6" fill="#111" stroke="#111" stroke-width="0.18">Summer</text>
<text transform="translate(464.54,202.8) scale(1.0498,1)" font-size="11.2" fill="#111" stroke="#111" stroke-width="0.18">Total Evaporation:</text>
<text transform="translate(450.28,224.2) scale(0.9627,1)" font-size="9.1" fill="#111" stroke="#111" stroke-width="0.18">E<tspan font-size="6.82" dy="1.55">NA</tspan></text>
<text transform="translate(470.37,225.3) scale(1.1429,1)" font-size="11.5" fill="#111" stroke="#111" stroke-width="0.18">=</text>
<text transform="translate(482.48,224.2) scale(0.9660,1)" font-size="9.1" fill="#111" stroke="#111" stroke-width="0.18">E<tspan font-size="6.82" dy="1.55">SOIL</tspan></text>
<text transform="translate(509.05,225.3) scale(1.0000,1)" font-size="11.5" fill="#111" stroke="#111" stroke-width="0.18">+</text>
<text transform="translate(519.88,224.2) scale(0.9662,1)" font-size="9.1" fill="#111" stroke="#111" stroke-width="0.18">E<tspan font-size="6.82" dy="1.55">VEGT</tspan></text>
<text transform="translate(549.25,225.3) scale(1.0000,1)" font-size="11.5" fill="#111" stroke="#111" stroke-width="0.18">+</text>
<text transform="translate(560.79,224.2) scale(0.9478,1)" font-size="9.1" fill="#111" stroke="#111" stroke-width="0.18">E<tspan font-size="6.82" dy="1.55">VEGE</tspan></text>
<text transform="translate(357.4,241.27) rotate(-90) scale(0.9371,1)" font-size="11.3" fill="#111" stroke="#111" stroke-width="0.18">Surface water flux trend [10<tspan font-size="7.91" dy="-4.29">−3</tspan><tspan dy="4.29"> Sv decade</tspan><tspan font-size="7.91" dy="-4.29">−1</tspan><tspan dy="4.29">]</tspan></text>
<text transform="translate(345.81,297.3) scale(1.1478,1)" font-size="22.8" font-weight="bold" fill="#000">d</text>
<text transform="translate(471.48,304.5) scale(1.1317,1)" font-size="10.9" fill="#111" stroke="#111" stroke-width="0.18">Regions 43+44: Eurasia</text>
<rect x="396.46" y="350.29" width="16.63" height="67.01" fill="#4a90e2"/>
<rect x="413.09" y="417.3" width="16.63" height="97.37" fill="#d72b63"/>
<rect x="438.03" y="370.71" width="16.63" height="46.59" fill="#4a90e2"/>
<rect x="454.66" y="399.76" width="16.63" height="17.54" fill="#d72b63"/>
<rect x="479.6" y="397.67" width="16.63" height="19.63" fill="#4a90e2"/>
<rect x="496.23" y="417.3" width="16.63" height="2.62" fill="#d72b63"/>
<rect x="521.17" y="393.74" width="16.63" height="23.56" fill="#4a90e2"/>
<rect x="537.8" y="381.7" width="16.63" height="35.6" fill="#d72b63"/>
<rect x="562.74" y="413.9" width="16.63" height="3.4" fill="#4a90e2"/>
<rect x="579.37" y="417.3" width="16.63" height="14.13" fill="#d72b63"/>
<rect x="604.31" y="412.85" width="16.63" height="4.45" fill="#4a90e2"/>
<rect x="620.94" y="397.15" width="16.63" height="20.15" fill="#d72b63"/>
<rect x="645.89" y="396.62" width="16.63" height="20.68" fill="#4a90e2"/>
<rect x="662.51" y="417.3" width="16.63" height="39.26" fill="#d72b63"/>
<path d="M433.87 313.4 V527.24" stroke="#666" stroke-width="1.3" stroke-dasharray="2.8 1.3" fill="none"/>
<path d="M600.16 313.4 V527.24" stroke="#666" stroke-width="1.3" stroke-dasharray="2.8 1.3" fill="none"/>
<path d="M392.3 417.3 H683.3" stroke="#000" stroke-width="1.1" fill="none"/>
<path d="M392.1 312.3 V527.53 H683.3" stroke="#000" stroke-width="1.5" fill="none"/>
<text transform="translate(364.37,525.7) scale(1.0567,1)" font-size="10.4" fill="#111" stroke="#111" stroke-width="0.18">−20</text>
<text transform="translate(364.37,499.52) scale(1.0599,1)" font-size="10.4" fill="#111" stroke="#111" stroke-width="0.18">−15</text>
<text transform="translate(364.37,473.35) scale(1.0567,1)" font-size="10.4" fill="#111" stroke="#111" stroke-width="0.18">−10</text>
<text transform="translate(370.15,447.18) scale(1.0917,1)" font-size="10.4" fill="#111" stroke="#111" stroke-width="0.18">−5</text>
<text transform="translate(377.25,421) scale(0.9907,1)" font-size="10.4" fill="#111" stroke="#111" stroke-width="0.18">0</text>
<text transform="translate(377.3,394.82) scale(0.9907,1)" font-size="10.4" fill="#111" stroke="#111" stroke-width="0.18">5</text>
<text transform="translate(371.5,368.65) scale(0.9907,1)" font-size="10.4" fill="#111" stroke="#111" stroke-width="0.18">10</text>
<text transform="translate(371.55,342.47) scale(0.9907,1)" font-size="10.4" fill="#111" stroke="#111" stroke-width="0.18">15</text>
<text transform="translate(371.5,316.3) scale(0.9907,1)" font-size="10.4" fill="#111" stroke="#111" stroke-width="0.18">20</text>
<path d="M388.4 522 H392.3 M388.4 495.82 H392.3 M388.4 469.65 H392.3 M388.4 443.48 H392.3 M388.4 417.3 H392.3 M388.4 391.12 H392.3 M388.4 364.95 H392.3 M388.4 338.77 H392.3 M388.4 312.6 H392.3 M413.09 527.24 V531.74 M454.66 527.24 V531.74 M496.23 527.24 V531.74 M537.8 527.24 V531.74 M579.37 527.24 V531.74 M620.94 527.24 V531.74 M662.51 527.24 V531.74" stroke="#000" stroke-width="1.25" fill="none"/>
<text transform="translate(406.19,543.9) scale(0.8397,1)" font-size="10.3" fill="#111" stroke="#111" stroke-width="0.18">P<tspan font-size="7.21" dy="1.13">EA</tspan></text>
<text transform="translate(447.26,543.9) scale(0.8654,1)" font-size="10.3" fill="#111" stroke="#111" stroke-width="0.18">E<tspan font-size="7.21" dy="1.13">EA</tspan></text>
<text transform="translate(485.95,543.9) scale(0.8804,1)" font-size="10.3" fill="#111" stroke="#111" stroke-width="0.18">E<tspan font-size="7.21" dy="1.13">SOIL</tspan></text>
<text transform="translate(525.96,543.9) scale(0.8745,1)" font-size="10.3" fill="#111" stroke="#111" stroke-width="0.18">E<tspan font-size="7.21" dy="1.13">VEGT</tspan></text>
<text transform="translate(567.66,543.9) scale(0.8660,1)" font-size="10.3" fill="#111" stroke="#111" stroke-width="0.18">E<tspan font-size="7.21" dy="1.13">VEGE</tspan></text>
<text transform="translate(608.49,543.9) scale(0.9580,1)" font-size="10.3" fill="#111" stroke="#111" stroke-width="0.18">P<tspan font-size="7.21" dy="1.13">Arctic</tspan></text>
<text transform="translate(643.67,543.9) scale(0.9717,1)" font-size="10.3" fill="#111" stroke="#111" stroke-width="0.18">P<tspan font-size="7.21" dy="1.13">NonArctic</tspan></text>
<rect x="583" y="316.3" width="98" height="30" fill="#fff"/>
<rect x="587" y="321.5" width="18.7" height="6.2" fill="#4a90e2"/>
<rect x="587" y="335" width="18.7" height="6.2" fill="#d72b63"/>
<text transform="translate(613.25,327.6) scale(1.0500,1)" font-size="9.6" fill="#111" stroke="#111" stroke-width="0.18">Winter-Spring</text>
<text transform="translate(612.82,341.4) scale(1.0616,1)" font-size="9.6" fill="#111" stroke="#111" stroke-width="0.18">Summer</text>
<text transform="translate(464.54,482.5) scale(1.0498,1)" font-size="11.2" fill="#111" stroke="#111" stroke-width="0.18">Total Evaporation:</text>
<text transform="translate(450.26,503.9) scale(0.9895,1)" font-size="9.1" fill="#111" stroke="#111" stroke-width="0.18">E<tspan font-size="6.82" dy="1.55">EA</tspan></text>
<text transform="translate(470.37,505) scale(1.1429,1)" font-size="11.5" fill="#111" stroke="#111" stroke-width="0.18">=</text>
<text transform="translate(482.48,503.9) scale(0.9660,1)" font-size="9.1" fill="#111" stroke="#111" stroke-width="0.18">E<tspan font-size="6.82" dy="1.55">SOIL</tspan></text>
<text transform="translate(509.05,505) scale(1.0000,1)" font-size="11.5" fill="#111" stroke="#111" stroke-width="0.18">+</text>
<text transform="translate(519.88,503.9) scale(0.9662,1)" font-size="9.1" fill="#111" stroke="#111" stroke-width="0.18">E<tspan font-size="6.82" dy="1.55">VEGT</tspan></text>
<text transform="translate(549.25,505) scale(1.0000,1)" font-size="11.5" fill="#111" stroke="#111" stroke-width="0.18">+</text>
<text transform="translate(560.79,503.9) scale(0.9478,1)" font-size="9.1" fill="#111" stroke="#111" stroke-width="0.18">E<tspan font-size="6.82" dy="1.55">VEGE</tspan></text>
<text transform="translate(357.4,520.97) rotate(-90) scale(0.9371,1)" font-size="11.3" fill="#111" stroke="#111" stroke-width="0.18">Surface water flux trend [10<tspan font-size="7.91" dy="-4.29">−3</tspan><tspan dy="4.29"> Sv decade</tspan><tspan font-size="7.91" dy="-4.29">−1</tspan><tspan dy="4.29">]</tspan></text>
</svg>
</body></html>
